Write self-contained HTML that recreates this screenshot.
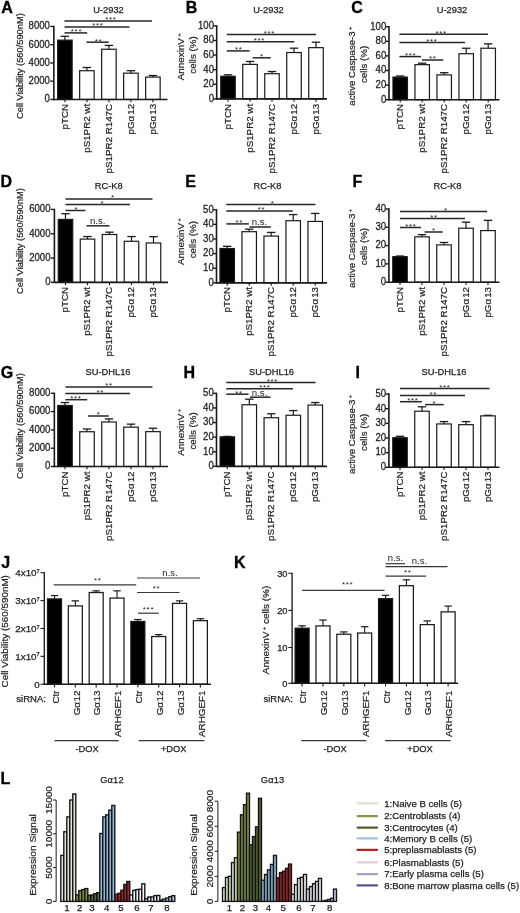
<!DOCTYPE html>
<html lang="en">
<head>
<meta charset="utf-8">
<title>Figure</title>
<style>
html,body{margin:0;padding:0;background:#fff;}
body{width:520px;height:913px;overflow:hidden;}
svg{display:block;font-family:"Liberation Sans", sans-serif;filter:blur(0.45px);}
</style>
</head>
<body>
<svg width="520" height="913" viewBox="0 0 520 913">
<rect x="0" y="0" width="520" height="913" fill="#ffffff"/>
<text transform="translate(1.2 12.9)" font-size="16" text-anchor="start" font-weight="bold" fill="#000" stroke="#000" stroke-width="0.35">A</text>
<text transform="translate(108.5 13.1)" font-size="9.3" text-anchor="middle" fill="#222222" stroke="#222222" stroke-width="0.25">U-2932</text>
<text transform="translate(23.4 66.1) scale(1 1.07) rotate(-90)" font-size="8.7" text-anchor="middle" fill="#222222" stroke="#222222" stroke-width="0.2">Cell Viability (560/590nM)</text>
<line x1="64.9" y1="40.14" x2="64.9" y2="36.31" stroke="#1a1a1a" stroke-width="1.2" stroke-linecap="butt"/>
<line x1="60.7" y1="36.31" x2="69.1" y2="36.31" stroke="#1a1a1a" stroke-width="1.3" stroke-linecap="butt"/>
<rect x="57.65" y="40.14" width="14.5" height="59.31" fill="#000" stroke="#1a1a1a" stroke-width="1.2"/>
<line x1="64.9" y1="99.45" x2="64.9" y2="102.25" stroke="#1a1a1a" stroke-width="1.1" stroke-linecap="butt"/>
<text transform="translate(67.8 103.9) scale(1 1.04) rotate(-90)" font-size="9.4" text-anchor="end" fill="#222222" stroke="#222222" stroke-width="0.2">pTCN</text>
<line x1="86.9" y1="70.71" x2="86.9" y2="67.51" stroke="#1a1a1a" stroke-width="1.2" stroke-linecap="butt"/>
<line x1="82.7" y1="67.51" x2="91.1" y2="67.51" stroke="#1a1a1a" stroke-width="1.3" stroke-linecap="butt"/>
<rect x="79.65" y="70.71" width="14.5" height="28.74" fill="#fff" stroke="#1a1a1a" stroke-width="1.2"/>
<line x1="86.9" y1="99.45" x2="86.9" y2="102.25" stroke="#1a1a1a" stroke-width="1.1" stroke-linecap="butt"/>
<text transform="translate(89.8 103.9) scale(1 1.04) rotate(-90)" font-size="9.4" text-anchor="end" fill="#222222" stroke="#222222" stroke-width="0.2">pS1PR2 wt</text>
<line x1="108.9" y1="49.26" x2="108.9" y2="45.43" stroke="#1a1a1a" stroke-width="1.2" stroke-linecap="butt"/>
<line x1="104.7" y1="45.43" x2="113.1" y2="45.43" stroke="#1a1a1a" stroke-width="1.3" stroke-linecap="butt"/>
<rect x="101.65" y="49.26" width="14.5" height="50.19" fill="#fff" stroke="#1a1a1a" stroke-width="1.2"/>
<line x1="108.9" y1="99.45" x2="108.9" y2="102.25" stroke="#1a1a1a" stroke-width="1.1" stroke-linecap="butt"/>
<text transform="translate(111.8 103.9) scale(1 1.04) rotate(-90)" font-size="9.4" text-anchor="end" fill="#222222" stroke="#222222" stroke-width="0.2">pS1PR2 R147C</text>
<line x1="130.9" y1="73.17" x2="130.9" y2="70.71" stroke="#1a1a1a" stroke-width="1.2" stroke-linecap="butt"/>
<line x1="126.7" y1="70.71" x2="135.1" y2="70.71" stroke="#1a1a1a" stroke-width="1.3" stroke-linecap="butt"/>
<rect x="123.65" y="73.17" width="14.5" height="26.28" fill="#fff" stroke="#1a1a1a" stroke-width="1.2"/>
<line x1="130.9" y1="99.45" x2="130.9" y2="102.25" stroke="#1a1a1a" stroke-width="1.1" stroke-linecap="butt"/>
<text transform="translate(133.8 103.9) scale(1 1.04) rotate(-90)" font-size="9.4" text-anchor="end" fill="#222222" stroke="#222222" stroke-width="0.2">pGα<tspan dx="1.0">12</tspan></text>
<line x1="152.9" y1="77.09" x2="152.9" y2="75.54" stroke="#1a1a1a" stroke-width="1.2" stroke-linecap="butt"/>
<line x1="148.7" y1="75.54" x2="157.1" y2="75.54" stroke="#1a1a1a" stroke-width="1.3" stroke-linecap="butt"/>
<rect x="145.65" y="77.09" width="14.5" height="22.36" fill="#fff" stroke="#1a1a1a" stroke-width="1.2"/>
<line x1="152.9" y1="99.45" x2="152.9" y2="102.25" stroke="#1a1a1a" stroke-width="1.1" stroke-linecap="butt"/>
<text transform="translate(155.8 103.9) scale(1 1.04) rotate(-90)" font-size="9.4" text-anchor="end" fill="#222222" stroke="#222222" stroke-width="0.2">pGα<tspan dx="1.0">13</tspan></text>
<line x1="53.85" y1="25.75" x2="53.85" y2="100.15" stroke="#1a1a1a" stroke-width="1.6" stroke-linecap="butt"/>
<line x1="53.15" y1="99.45" x2="167.5" y2="99.45" stroke="#1a1a1a" stroke-width="1.6" stroke-linecap="butt"/>
<line x1="50.25" y1="99.45" x2="53.85" y2="99.45" stroke="#1a1a1a" stroke-width="1.4" stroke-linecap="butt"/>
<text transform="translate(49.95 102.25) scale(1 1.07)" font-size="9.6" text-anchor="end" fill="#222222" stroke="#222222" stroke-width="0.25">0</text>
<line x1="50.25" y1="81.2" x2="53.85" y2="81.2" stroke="#1a1a1a" stroke-width="1.4" stroke-linecap="butt"/>
<text transform="translate(49.95 84) scale(1 1.07)" font-size="9.6" text-anchor="end" fill="#222222" stroke="#222222" stroke-width="0.25">2000</text>
<line x1="50.25" y1="62.95" x2="53.85" y2="62.95" stroke="#1a1a1a" stroke-width="1.4" stroke-linecap="butt"/>
<text transform="translate(49.95 65.75) scale(1 1.07)" font-size="9.6" text-anchor="end" fill="#222222" stroke="#222222" stroke-width="0.25">4000</text>
<line x1="50.25" y1="44.7" x2="53.85" y2="44.7" stroke="#1a1a1a" stroke-width="1.4" stroke-linecap="butt"/>
<text transform="translate(49.95 47.5) scale(1 1.07)" font-size="9.6" text-anchor="end" fill="#222222" stroke="#222222" stroke-width="0.25">6000</text>
<line x1="50.25" y1="26.45" x2="53.85" y2="26.45" stroke="#1a1a1a" stroke-width="1.4" stroke-linecap="butt"/>
<text transform="translate(49.95 29.25) scale(1 1.07)" font-size="9.6" text-anchor="end" fill="#222222" stroke="#222222" stroke-width="0.25">8000</text>
<line x1="64.5" y1="21" x2="152" y2="21" stroke="#262626" stroke-width="1.5" stroke-linecap="butt"/>
<text transform="translate(110.9 22.3)" font-size="8" text-anchor="middle" letter-spacing="0.65" fill="#222222">***</text>
<line x1="64.5" y1="26.9" x2="129.4" y2="26.9" stroke="#262626" stroke-width="1.5" stroke-linecap="butt"/>
<text transform="translate(97.8 28.2)" font-size="8" text-anchor="middle" letter-spacing="0.65" fill="#222222">***</text>
<line x1="64.5" y1="32.9" x2="87.2" y2="32.9" stroke="#262626" stroke-width="1.5" stroke-linecap="butt"/>
<text transform="translate(76.5 34.2)" font-size="8" text-anchor="middle" letter-spacing="0.65" fill="#222222">***</text>
<line x1="86.5" y1="42.2" x2="108.7" y2="42.2" stroke="#262626" stroke-width="1.5" stroke-linecap="butt"/>
<text transform="translate(98.5 43.5)" font-size="8" text-anchor="middle" letter-spacing="0.65" fill="#222222">**</text>
<text transform="translate(185.8 12.7)" font-size="16" text-anchor="start" font-weight="bold" fill="#000" stroke="#000" stroke-width="0.35">B</text>
<text transform="translate(268.5 13.1)" font-size="9.3" text-anchor="middle" fill="#222222" stroke="#222222" stroke-width="0.25">U-2932</text>
<text transform="translate(184 56.8) scale(1 1.07) rotate(-90)" font-size="9.2" text-anchor="middle" fill="#222222" stroke="#222222" stroke-width="0.2">AnnexinV<tspan font-size="5.5" dy="-3.4" dx="1.2">+</tspan></text>
<text transform="translate(196.3 55) scale(1 1.07) rotate(-90)" font-size="9.1" text-anchor="middle" fill="#222222" stroke="#222222" stroke-width="0.2">cells (%)</text>
<line x1="228" y1="76.27" x2="228" y2="74.81" stroke="#1a1a1a" stroke-width="1.2" stroke-linecap="butt"/>
<line x1="223.8" y1="74.81" x2="232.2" y2="74.81" stroke="#1a1a1a" stroke-width="1.3" stroke-linecap="butt"/>
<rect x="220.75" y="76.27" width="14.5" height="22.63" fill="#000" stroke="#1a1a1a" stroke-width="1.2"/>
<line x1="228" y1="98.9" x2="228" y2="101.7" stroke="#1a1a1a" stroke-width="1.1" stroke-linecap="butt"/>
<text transform="translate(230.9 103.9) scale(1 1.04) rotate(-90)" font-size="9.4" text-anchor="end" fill="#222222" stroke="#222222" stroke-width="0.2">pTCN</text>
<line x1="250" y1="64.37" x2="250" y2="61.45" stroke="#1a1a1a" stroke-width="1.2" stroke-linecap="butt"/>
<line x1="245.8" y1="61.45" x2="254.2" y2="61.45" stroke="#1a1a1a" stroke-width="1.3" stroke-linecap="butt"/>
<rect x="242.75" y="64.37" width="14.5" height="34.53" fill="#fff" stroke="#1a1a1a" stroke-width="1.2"/>
<line x1="250" y1="98.9" x2="250" y2="101.7" stroke="#1a1a1a" stroke-width="1.1" stroke-linecap="butt"/>
<text transform="translate(252.9 103.9) scale(1 1.04) rotate(-90)" font-size="9.4" text-anchor="end" fill="#222222" stroke="#222222" stroke-width="0.2">pS1PR2 wt</text>
<line x1="272" y1="73.72" x2="272" y2="71.53" stroke="#1a1a1a" stroke-width="1.2" stroke-linecap="butt"/>
<line x1="267.8" y1="71.53" x2="276.2" y2="71.53" stroke="#1a1a1a" stroke-width="1.3" stroke-linecap="butt"/>
<rect x="264.75" y="73.72" width="14.5" height="25.19" fill="#fff" stroke="#1a1a1a" stroke-width="1.2"/>
<line x1="272" y1="98.9" x2="272" y2="101.7" stroke="#1a1a1a" stroke-width="1.1" stroke-linecap="butt"/>
<text transform="translate(274.9 103.9) scale(1 1.04) rotate(-90)" font-size="9.4" text-anchor="end" fill="#222222" stroke="#222222" stroke-width="0.2">pS1PR2 R147C</text>
<line x1="294" y1="52.55" x2="294" y2="48.17" stroke="#1a1a1a" stroke-width="1.2" stroke-linecap="butt"/>
<line x1="289.8" y1="48.17" x2="298.2" y2="48.17" stroke="#1a1a1a" stroke-width="1.3" stroke-linecap="butt"/>
<rect x="286.75" y="52.55" width="14.5" height="46.35" fill="#fff" stroke="#1a1a1a" stroke-width="1.2"/>
<line x1="294" y1="98.9" x2="294" y2="101.7" stroke="#1a1a1a" stroke-width="1.1" stroke-linecap="butt"/>
<text transform="translate(296.9 103.9) scale(1 1.04) rotate(-90)" font-size="9.4" text-anchor="end" fill="#222222" stroke="#222222" stroke-width="0.2">pGα<tspan dx="1.0">12</tspan></text>
<line x1="316" y1="47.65" x2="316" y2="42.18" stroke="#1a1a1a" stroke-width="1.2" stroke-linecap="butt"/>
<line x1="311.8" y1="42.18" x2="320.2" y2="42.18" stroke="#1a1a1a" stroke-width="1.3" stroke-linecap="butt"/>
<rect x="308.75" y="47.65" width="14.5" height="51.25" fill="#fff" stroke="#1a1a1a" stroke-width="1.2"/>
<line x1="316" y1="98.9" x2="316" y2="101.7" stroke="#1a1a1a" stroke-width="1.1" stroke-linecap="butt"/>
<text transform="translate(318.9 103.9) scale(1 1.04) rotate(-90)" font-size="9.4" text-anchor="end" fill="#222222" stroke="#222222" stroke-width="0.2">pGα<tspan dx="1.0">13</tspan></text>
<line x1="216.7" y1="25.2" x2="216.7" y2="99.6" stroke="#1a1a1a" stroke-width="1.6" stroke-linecap="butt"/>
<line x1="216" y1="98.9" x2="327" y2="98.9" stroke="#1a1a1a" stroke-width="1.6" stroke-linecap="butt"/>
<line x1="213.1" y1="98.9" x2="216.7" y2="98.9" stroke="#1a1a1a" stroke-width="1.4" stroke-linecap="butt"/>
<text transform="translate(214 101.7) scale(1 1.07)" font-size="9.6" text-anchor="end" fill="#222222" stroke="#222222" stroke-width="0.25">0</text>
<line x1="213.1" y1="84.3" x2="216.7" y2="84.3" stroke="#1a1a1a" stroke-width="1.4" stroke-linecap="butt"/>
<text transform="translate(214 87.1) scale(1 1.07)" font-size="9.6" text-anchor="end" fill="#222222" stroke="#222222" stroke-width="0.25">20</text>
<line x1="213.1" y1="69.7" x2="216.7" y2="69.7" stroke="#1a1a1a" stroke-width="1.4" stroke-linecap="butt"/>
<text transform="translate(214 72.5) scale(1 1.07)" font-size="9.6" text-anchor="end" fill="#222222" stroke="#222222" stroke-width="0.25">40</text>
<line x1="213.1" y1="55.1" x2="216.7" y2="55.1" stroke="#1a1a1a" stroke-width="1.4" stroke-linecap="butt"/>
<text transform="translate(214 57.9) scale(1 1.07)" font-size="9.6" text-anchor="end" fill="#222222" stroke="#222222" stroke-width="0.25">60</text>
<line x1="213.1" y1="40.5" x2="216.7" y2="40.5" stroke="#1a1a1a" stroke-width="1.4" stroke-linecap="butt"/>
<text transform="translate(214 43.3) scale(1 1.07)" font-size="9.6" text-anchor="end" fill="#222222" stroke="#222222" stroke-width="0.25">80</text>
<line x1="213.1" y1="25.9" x2="216.7" y2="25.9" stroke="#1a1a1a" stroke-width="1.4" stroke-linecap="butt"/>
<text transform="translate(214 28.7) scale(1 1.07)" font-size="9.6" text-anchor="end" fill="#222222" stroke="#222222" stroke-width="0.25">100</text>
<line x1="226.8" y1="34.4" x2="316" y2="34.4" stroke="#262626" stroke-width="1.5" stroke-linecap="butt"/>
<text transform="translate(269.3 35.7)" font-size="8" text-anchor="middle" letter-spacing="0.65" fill="#222222">***</text>
<line x1="226.8" y1="41.8" x2="294.2" y2="41.8" stroke="#262626" stroke-width="1.5" stroke-linecap="butt"/>
<text transform="translate(259.3 43.1)" font-size="8" text-anchor="middle" letter-spacing="0.65" fill="#222222">***</text>
<line x1="226.8" y1="50.9" x2="249.6" y2="50.9" stroke="#262626" stroke-width="1.5" stroke-linecap="butt"/>
<text transform="translate(238.8 52.2)" font-size="8" text-anchor="middle" letter-spacing="0.65" fill="#222222">**</text>
<line x1="252.6" y1="57.8" x2="270.8" y2="57.8" stroke="#262626" stroke-width="1.5" stroke-linecap="butt"/>
<text transform="translate(261.8 59.1)" font-size="8" text-anchor="middle" letter-spacing="0.65" fill="#222222">*</text>
<text transform="translate(351.3 12.9)" font-size="16" text-anchor="start" font-weight="bold" fill="#000" stroke="#000" stroke-width="0.35">C</text>
<text transform="translate(452 13.1)" font-size="9.3" text-anchor="middle" fill="#222222" stroke="#222222" stroke-width="0.25">U-2932</text>
<text transform="translate(355.1 66.2) scale(1 1.07) rotate(-90)" font-size="9.0" text-anchor="middle" fill="#222222" stroke="#222222" stroke-width="0.2">active Caspase-3<tspan font-size="5.5" dy="-3.4" dx="1.2">+</tspan></text>
<text transform="translate(366.9 64.4) scale(1 1.07) rotate(-90)" font-size="9.1" text-anchor="middle" fill="#222222" stroke="#222222" stroke-width="0.2">cells (%)</text>
<line x1="400.2" y1="77.07" x2="400.2" y2="75.98" stroke="#1a1a1a" stroke-width="1.2" stroke-linecap="butt"/>
<line x1="396" y1="75.98" x2="404.4" y2="75.98" stroke="#1a1a1a" stroke-width="1.3" stroke-linecap="butt"/>
<rect x="392.95" y="77.07" width="14.5" height="22.63" fill="#000" stroke="#1a1a1a" stroke-width="1.2"/>
<line x1="400.2" y1="99.7" x2="400.2" y2="102.5" stroke="#1a1a1a" stroke-width="1.1" stroke-linecap="butt"/>
<text transform="translate(403.1 103.9) scale(1 1.04) rotate(-90)" font-size="9.4" text-anchor="end" fill="#222222" stroke="#222222" stroke-width="0.2">pTCN</text>
<line x1="422.2" y1="64.66" x2="422.2" y2="63.2" stroke="#1a1a1a" stroke-width="1.2" stroke-linecap="butt"/>
<line x1="418" y1="63.2" x2="426.4" y2="63.2" stroke="#1a1a1a" stroke-width="1.3" stroke-linecap="butt"/>
<rect x="414.95" y="64.66" width="14.5" height="35.04" fill="#fff" stroke="#1a1a1a" stroke-width="1.2"/>
<line x1="422.2" y1="99.7" x2="422.2" y2="102.5" stroke="#1a1a1a" stroke-width="1.1" stroke-linecap="butt"/>
<text transform="translate(425.1 103.9) scale(1 1.04) rotate(-90)" font-size="9.4" text-anchor="end" fill="#222222" stroke="#222222" stroke-width="0.2">pS1PR2 wt</text>
<line x1="444.2" y1="74.88" x2="444.2" y2="72.69" stroke="#1a1a1a" stroke-width="1.2" stroke-linecap="butt"/>
<line x1="440" y1="72.69" x2="448.4" y2="72.69" stroke="#1a1a1a" stroke-width="1.3" stroke-linecap="butt"/>
<rect x="436.95" y="74.88" width="14.5" height="24.82" fill="#fff" stroke="#1a1a1a" stroke-width="1.2"/>
<line x1="444.2" y1="99.7" x2="444.2" y2="102.5" stroke="#1a1a1a" stroke-width="1.1" stroke-linecap="butt"/>
<text transform="translate(447.1 103.9) scale(1 1.04) rotate(-90)" font-size="9.4" text-anchor="end" fill="#222222" stroke="#222222" stroke-width="0.2">pS1PR2 R147C</text>
<line x1="466.2" y1="53.71" x2="466.2" y2="48.24" stroke="#1a1a1a" stroke-width="1.2" stroke-linecap="butt"/>
<line x1="462" y1="48.24" x2="470.4" y2="48.24" stroke="#1a1a1a" stroke-width="1.3" stroke-linecap="butt"/>
<rect x="458.95" y="53.71" width="14.5" height="45.99" fill="#fff" stroke="#1a1a1a" stroke-width="1.2"/>
<line x1="466.2" y1="99.7" x2="466.2" y2="102.5" stroke="#1a1a1a" stroke-width="1.1" stroke-linecap="butt"/>
<text transform="translate(469.1 103.9) scale(1 1.04) rotate(-90)" font-size="9.4" text-anchor="end" fill="#222222" stroke="#222222" stroke-width="0.2">pGα<tspan dx="1.0">12</tspan></text>
<line x1="488.2" y1="48.24" x2="488.2" y2="43.86" stroke="#1a1a1a" stroke-width="1.2" stroke-linecap="butt"/>
<line x1="484" y1="43.86" x2="492.4" y2="43.86" stroke="#1a1a1a" stroke-width="1.3" stroke-linecap="butt"/>
<rect x="480.95" y="48.24" width="14.5" height="51.46" fill="#fff" stroke="#1a1a1a" stroke-width="1.2"/>
<line x1="488.2" y1="99.7" x2="488.2" y2="102.5" stroke="#1a1a1a" stroke-width="1.1" stroke-linecap="butt"/>
<text transform="translate(491.1 103.9) scale(1 1.04) rotate(-90)" font-size="9.4" text-anchor="end" fill="#222222" stroke="#222222" stroke-width="0.2">pGα<tspan dx="1.0">13</tspan></text>
<line x1="389" y1="26" x2="389" y2="100.4" stroke="#1a1a1a" stroke-width="1.6" stroke-linecap="butt"/>
<line x1="388.3" y1="99.7" x2="499.5" y2="99.7" stroke="#1a1a1a" stroke-width="1.6" stroke-linecap="butt"/>
<line x1="385.4" y1="99.7" x2="389" y2="99.7" stroke="#1a1a1a" stroke-width="1.4" stroke-linecap="butt"/>
<text transform="translate(386.3 102.5) scale(1 1.07)" font-size="9.6" text-anchor="end" fill="#222222" stroke="#222222" stroke-width="0.25">0</text>
<line x1="385.4" y1="85.1" x2="389" y2="85.1" stroke="#1a1a1a" stroke-width="1.4" stroke-linecap="butt"/>
<text transform="translate(386.3 87.9) scale(1 1.07)" font-size="9.6" text-anchor="end" fill="#222222" stroke="#222222" stroke-width="0.25">20</text>
<line x1="385.4" y1="70.5" x2="389" y2="70.5" stroke="#1a1a1a" stroke-width="1.4" stroke-linecap="butt"/>
<text transform="translate(386.3 73.3) scale(1 1.07)" font-size="9.6" text-anchor="end" fill="#222222" stroke="#222222" stroke-width="0.25">40</text>
<line x1="385.4" y1="55.9" x2="389" y2="55.9" stroke="#1a1a1a" stroke-width="1.4" stroke-linecap="butt"/>
<text transform="translate(386.3 58.7) scale(1 1.07)" font-size="9.6" text-anchor="end" fill="#222222" stroke="#222222" stroke-width="0.25">60</text>
<line x1="385.4" y1="41.3" x2="389" y2="41.3" stroke="#1a1a1a" stroke-width="1.4" stroke-linecap="butt"/>
<text transform="translate(386.3 44.1) scale(1 1.07)" font-size="9.6" text-anchor="end" fill="#222222" stroke="#222222" stroke-width="0.25">80</text>
<line x1="385.4" y1="26.7" x2="389" y2="26.7" stroke="#1a1a1a" stroke-width="1.4" stroke-linecap="butt"/>
<text transform="translate(386.3 29.5) scale(1 1.07)" font-size="9.6" text-anchor="end" fill="#222222" stroke="#222222" stroke-width="0.25">100</text>
<line x1="399.4" y1="34.3" x2="488" y2="34.3" stroke="#262626" stroke-width="1.5" stroke-linecap="butt"/>
<text transform="translate(441.1 35.6)" font-size="8" text-anchor="middle" letter-spacing="0.65" fill="#222222">***</text>
<line x1="399.4" y1="42.5" x2="465" y2="42.5" stroke="#262626" stroke-width="1.5" stroke-linecap="butt"/>
<text transform="translate(431.8 43.8)" font-size="8" text-anchor="middle" letter-spacing="0.65" fill="#222222">***</text>
<line x1="399.4" y1="56.6" x2="421" y2="56.6" stroke="#262626" stroke-width="1.5" stroke-linecap="butt"/>
<text transform="translate(410.7 57.9)" font-size="8" text-anchor="middle" letter-spacing="0.65" fill="#222222">***</text>
<line x1="422" y1="60" x2="443.2" y2="60" stroke="#262626" stroke-width="1.5" stroke-linecap="butt"/>
<text transform="translate(432.8 61.3)" font-size="8" text-anchor="middle" letter-spacing="0.65" fill="#222222">**</text>
<text transform="translate(0.5 187.1)" font-size="16" text-anchor="start" font-weight="bold" fill="#000" stroke="#000" stroke-width="0.35">D</text>
<text transform="translate(108.8 189.4)" font-size="9.3" text-anchor="middle" fill="#222222" stroke="#222222" stroke-width="0.25">RC-K8</text>
<text transform="translate(23.4 241.1) scale(1 1.07) rotate(-90)" font-size="8.7" text-anchor="middle" fill="#222222" stroke="#222222" stroke-width="0.2">Cell Viability (560/590nM)</text>
<line x1="65.5" y1="219.41" x2="65.5" y2="213.7" stroke="#1a1a1a" stroke-width="1.2" stroke-linecap="butt"/>
<line x1="61.3" y1="213.7" x2="69.7" y2="213.7" stroke="#1a1a1a" stroke-width="1.3" stroke-linecap="butt"/>
<rect x="58.25" y="219.41" width="14.5" height="62.94" fill="#000" stroke="#1a1a1a" stroke-width="1.2"/>
<line x1="65.5" y1="282.35" x2="65.5" y2="285.15" stroke="#1a1a1a" stroke-width="1.1" stroke-linecap="butt"/>
<text transform="translate(68.4 287) scale(1 1.04) rotate(-90)" font-size="9.4" text-anchor="end" fill="#222222" stroke="#222222" stroke-width="0.2">pTCN</text>
<line x1="87.5" y1="239.1" x2="87.5" y2="236.54" stroke="#1a1a1a" stroke-width="1.2" stroke-linecap="butt"/>
<line x1="83.3" y1="236.54" x2="91.7" y2="236.54" stroke="#1a1a1a" stroke-width="1.3" stroke-linecap="butt"/>
<rect x="80.25" y="239.1" width="14.5" height="43.25" fill="#fff" stroke="#1a1a1a" stroke-width="1.2"/>
<line x1="87.5" y1="282.35" x2="87.5" y2="285.15" stroke="#1a1a1a" stroke-width="1.1" stroke-linecap="butt"/>
<text transform="translate(90.4 287) scale(1 1.04) rotate(-90)" font-size="9.4" text-anchor="end" fill="#222222" stroke="#222222" stroke-width="0.2">pS1PR2 wt</text>
<line x1="109.5" y1="234.48" x2="109.5" y2="232.17" stroke="#1a1a1a" stroke-width="1.2" stroke-linecap="butt"/>
<line x1="105.3" y1="232.17" x2="113.7" y2="232.17" stroke="#1a1a1a" stroke-width="1.3" stroke-linecap="butt"/>
<rect x="102.25" y="234.48" width="14.5" height="47.87" fill="#fff" stroke="#1a1a1a" stroke-width="1.2"/>
<line x1="109.5" y1="282.35" x2="109.5" y2="285.15" stroke="#1a1a1a" stroke-width="1.1" stroke-linecap="butt"/>
<text transform="translate(112.4 287) scale(1 1.04) rotate(-90)" font-size="9.4" text-anchor="end" fill="#222222" stroke="#222222" stroke-width="0.2">pS1PR2 R147C</text>
<line x1="131.5" y1="241.28" x2="131.5" y2="236.54" stroke="#1a1a1a" stroke-width="1.2" stroke-linecap="butt"/>
<line x1="127.3" y1="236.54" x2="135.7" y2="236.54" stroke="#1a1a1a" stroke-width="1.3" stroke-linecap="butt"/>
<rect x="124.25" y="241.28" width="14.5" height="41.07" fill="#fff" stroke="#1a1a1a" stroke-width="1.2"/>
<line x1="131.5" y1="282.35" x2="131.5" y2="285.15" stroke="#1a1a1a" stroke-width="1.1" stroke-linecap="butt"/>
<text transform="translate(134.4 287) scale(1 1.04) rotate(-90)" font-size="9.4" text-anchor="end" fill="#222222" stroke="#222222" stroke-width="0.2">pGα<tspan dx="1.0">12</tspan></text>
<line x1="153.5" y1="242.98" x2="153.5" y2="236.67" stroke="#1a1a1a" stroke-width="1.2" stroke-linecap="butt"/>
<line x1="149.3" y1="236.67" x2="157.7" y2="236.67" stroke="#1a1a1a" stroke-width="1.3" stroke-linecap="butt"/>
<rect x="146.25" y="242.98" width="14.5" height="39.37" fill="#fff" stroke="#1a1a1a" stroke-width="1.2"/>
<line x1="153.5" y1="282.35" x2="153.5" y2="285.15" stroke="#1a1a1a" stroke-width="1.1" stroke-linecap="butt"/>
<text transform="translate(156.4 287) scale(1 1.04) rotate(-90)" font-size="9.4" text-anchor="end" fill="#222222" stroke="#222222" stroke-width="0.2">pGα<tspan dx="1.0">13</tspan></text>
<line x1="54.4" y1="208.75" x2="54.4" y2="283.05" stroke="#1a1a1a" stroke-width="1.6" stroke-linecap="butt"/>
<line x1="53.7" y1="282.35" x2="168" y2="282.35" stroke="#1a1a1a" stroke-width="1.6" stroke-linecap="butt"/>
<line x1="50.8" y1="282.35" x2="54.4" y2="282.35" stroke="#1a1a1a" stroke-width="1.4" stroke-linecap="butt"/>
<text transform="translate(50.5 285.15) scale(1 1.07)" font-size="9.6" text-anchor="end" fill="#222222" stroke="#222222" stroke-width="0.25">0</text>
<line x1="50.8" y1="258.05" x2="54.4" y2="258.05" stroke="#1a1a1a" stroke-width="1.4" stroke-linecap="butt"/>
<text transform="translate(50.5 260.85) scale(1 1.07)" font-size="9.6" text-anchor="end" fill="#222222" stroke="#222222" stroke-width="0.25">2000</text>
<line x1="50.8" y1="233.75" x2="54.4" y2="233.75" stroke="#1a1a1a" stroke-width="1.4" stroke-linecap="butt"/>
<text transform="translate(50.5 236.55) scale(1 1.07)" font-size="9.6" text-anchor="end" fill="#222222" stroke="#222222" stroke-width="0.25">4000</text>
<line x1="50.8" y1="209.45" x2="54.4" y2="209.45" stroke="#1a1a1a" stroke-width="1.4" stroke-linecap="butt"/>
<text transform="translate(50.5 212.25) scale(1 1.07)" font-size="9.6" text-anchor="end" fill="#222222" stroke="#222222" stroke-width="0.25">6000</text>
<line x1="65.5" y1="199" x2="152.5" y2="199" stroke="#262626" stroke-width="1.5" stroke-linecap="butt"/>
<text transform="translate(112.8 200.3)" font-size="8" text-anchor="middle" letter-spacing="0.65" fill="#222222">*</text>
<line x1="65.5" y1="204.6" x2="130" y2="204.6" stroke="#262626" stroke-width="1.5" stroke-linecap="butt"/>
<text transform="translate(102.3 205.9)" font-size="8" text-anchor="middle" letter-spacing="0.65" fill="#222222">*</text>
<line x1="65.5" y1="210.5" x2="85.4" y2="210.5" stroke="#262626" stroke-width="1.5" stroke-linecap="butt"/>
<text transform="translate(76.3 211.8)" font-size="8" text-anchor="middle" letter-spacing="0.65" fill="#222222">*</text>
<line x1="86.5" y1="225.8" x2="109.5" y2="225.8" stroke="#262626" stroke-width="1.5" stroke-linecap="butt"/>
<text transform="translate(97.7 223.8)" font-size="9.6" text-anchor="middle" fill="#222222">n.s.</text>
<text transform="translate(185.3 187.1)" font-size="16" text-anchor="start" font-weight="bold" fill="#000" stroke="#000" stroke-width="0.35">E</text>
<text transform="translate(267.5 189.4)" font-size="9.3" text-anchor="middle" fill="#222222" stroke="#222222" stroke-width="0.25">RC-K8</text>
<text transform="translate(184 241.7) scale(1 1.07) rotate(-90)" font-size="9.2" text-anchor="middle" fill="#222222" stroke="#222222" stroke-width="0.2">AnnexinV<tspan font-size="5.5" dy="-3.4" dx="1.2">+</tspan></text>
<text transform="translate(196.3 239.7) scale(1 1.07) rotate(-90)" font-size="9.1" text-anchor="middle" fill="#222222" stroke="#222222" stroke-width="0.2">cells (%)</text>
<line x1="227.2" y1="248.49" x2="227.2" y2="246.3" stroke="#1a1a1a" stroke-width="1.2" stroke-linecap="butt"/>
<line x1="223" y1="246.3" x2="231.4" y2="246.3" stroke="#1a1a1a" stroke-width="1.3" stroke-linecap="butt"/>
<rect x="219.95" y="248.49" width="14.5" height="34.36" fill="#000" stroke="#1a1a1a" stroke-width="1.2"/>
<line x1="227.2" y1="282.85" x2="227.2" y2="285.65" stroke="#1a1a1a" stroke-width="1.1" stroke-linecap="butt"/>
<text transform="translate(230.1 287) scale(1 1.04) rotate(-90)" font-size="9.4" text-anchor="end" fill="#222222" stroke="#222222" stroke-width="0.2">pTCN</text>
<line x1="249.2" y1="231.68" x2="249.2" y2="229.19" stroke="#1a1a1a" stroke-width="1.2" stroke-linecap="butt"/>
<line x1="245" y1="229.19" x2="253.4" y2="229.19" stroke="#1a1a1a" stroke-width="1.3" stroke-linecap="butt"/>
<rect x="241.95" y="231.68" width="14.5" height="51.17" fill="#fff" stroke="#1a1a1a" stroke-width="1.2"/>
<line x1="249.2" y1="282.85" x2="249.2" y2="285.65" stroke="#1a1a1a" stroke-width="1.1" stroke-linecap="butt"/>
<text transform="translate(252.1 287) scale(1 1.04) rotate(-90)" font-size="9.4" text-anchor="end" fill="#222222" stroke="#222222" stroke-width="0.2">pS1PR2 wt</text>
<line x1="271.2" y1="236.07" x2="271.2" y2="232.41" stroke="#1a1a1a" stroke-width="1.2" stroke-linecap="butt"/>
<line x1="267" y1="232.41" x2="275.4" y2="232.41" stroke="#1a1a1a" stroke-width="1.3" stroke-linecap="butt"/>
<rect x="263.95" y="236.07" width="14.5" height="46.78" fill="#fff" stroke="#1a1a1a" stroke-width="1.2"/>
<line x1="271.2" y1="282.85" x2="271.2" y2="285.65" stroke="#1a1a1a" stroke-width="1.1" stroke-linecap="butt"/>
<text transform="translate(274.1 287) scale(1 1.04) rotate(-90)" font-size="9.4" text-anchor="end" fill="#222222" stroke="#222222" stroke-width="0.2">pS1PR2 R147C</text>
<line x1="293.2" y1="220.72" x2="293.2" y2="214.57" stroke="#1a1a1a" stroke-width="1.2" stroke-linecap="butt"/>
<line x1="289" y1="214.57" x2="297.4" y2="214.57" stroke="#1a1a1a" stroke-width="1.3" stroke-linecap="butt"/>
<rect x="285.95" y="220.72" width="14.5" height="62.13" fill="#fff" stroke="#1a1a1a" stroke-width="1.2"/>
<line x1="293.2" y1="282.85" x2="293.2" y2="285.65" stroke="#1a1a1a" stroke-width="1.1" stroke-linecap="butt"/>
<text transform="translate(296.1 287) scale(1 1.04) rotate(-90)" font-size="9.4" text-anchor="end" fill="#222222" stroke="#222222" stroke-width="0.2">pGα<tspan dx="1.0">12</tspan></text>
<line x1="315.2" y1="221.45" x2="315.2" y2="213.41" stroke="#1a1a1a" stroke-width="1.2" stroke-linecap="butt"/>
<line x1="311" y1="213.41" x2="319.4" y2="213.41" stroke="#1a1a1a" stroke-width="1.3" stroke-linecap="butt"/>
<rect x="307.95" y="221.45" width="14.5" height="61.4" fill="#fff" stroke="#1a1a1a" stroke-width="1.2"/>
<line x1="315.2" y1="282.85" x2="315.2" y2="285.65" stroke="#1a1a1a" stroke-width="1.1" stroke-linecap="butt"/>
<text transform="translate(318.1 287) scale(1 1.04) rotate(-90)" font-size="9.4" text-anchor="end" fill="#222222" stroke="#222222" stroke-width="0.2">pGα<tspan dx="1.0">13</tspan></text>
<line x1="216.5" y1="209.05" x2="216.5" y2="283.55" stroke="#1a1a1a" stroke-width="1.6" stroke-linecap="butt"/>
<line x1="215.8" y1="282.85" x2="327" y2="282.85" stroke="#1a1a1a" stroke-width="1.6" stroke-linecap="butt"/>
<line x1="212.9" y1="282.85" x2="216.5" y2="282.85" stroke="#1a1a1a" stroke-width="1.4" stroke-linecap="butt"/>
<text transform="translate(213.8 285.65) scale(1 1.07)" font-size="9.6" text-anchor="end" fill="#222222" stroke="#222222" stroke-width="0.25">0</text>
<line x1="212.9" y1="268.23" x2="216.5" y2="268.23" stroke="#1a1a1a" stroke-width="1.4" stroke-linecap="butt"/>
<text transform="translate(213.8 271.03) scale(1 1.07)" font-size="9.6" text-anchor="end" fill="#222222" stroke="#222222" stroke-width="0.25">10</text>
<line x1="212.9" y1="253.61" x2="216.5" y2="253.61" stroke="#1a1a1a" stroke-width="1.4" stroke-linecap="butt"/>
<text transform="translate(213.8 256.41) scale(1 1.07)" font-size="9.6" text-anchor="end" fill="#222222" stroke="#222222" stroke-width="0.25">20</text>
<line x1="212.9" y1="238.99" x2="216.5" y2="238.99" stroke="#1a1a1a" stroke-width="1.4" stroke-linecap="butt"/>
<text transform="translate(213.8 241.79) scale(1 1.07)" font-size="9.6" text-anchor="end" fill="#222222" stroke="#222222" stroke-width="0.25">30</text>
<line x1="212.9" y1="224.37" x2="216.5" y2="224.37" stroke="#1a1a1a" stroke-width="1.4" stroke-linecap="butt"/>
<text transform="translate(213.8 227.17) scale(1 1.07)" font-size="9.6" text-anchor="end" fill="#222222" stroke="#222222" stroke-width="0.25">40</text>
<line x1="212.9" y1="209.75" x2="216.5" y2="209.75" stroke="#1a1a1a" stroke-width="1.4" stroke-linecap="butt"/>
<text transform="translate(213.8 212.55) scale(1 1.07)" font-size="9.6" text-anchor="end" fill="#222222" stroke="#222222" stroke-width="0.25">50</text>
<line x1="226.3" y1="204.6" x2="315.5" y2="204.6" stroke="#262626" stroke-width="1.5" stroke-linecap="butt"/>
<text transform="translate(272.5 205.9)" font-size="8" text-anchor="middle" letter-spacing="0.65" fill="#222222">*</text>
<line x1="226.3" y1="211" x2="292.7" y2="211" stroke="#262626" stroke-width="1.5" stroke-linecap="butt"/>
<text transform="translate(261.6 212.3)" font-size="8" text-anchor="middle" letter-spacing="0.65" fill="#222222">**</text>
<line x1="226.3" y1="223.9" x2="248.8" y2="223.9" stroke="#262626" stroke-width="1.5" stroke-linecap="butt"/>
<text transform="translate(239.3 225.2)" font-size="8" text-anchor="middle" letter-spacing="0.65" fill="#222222">**</text>
<line x1="249.5" y1="227" x2="270.8" y2="227" stroke="#262626" stroke-width="1.5" stroke-linecap="butt"/>
<text transform="translate(259.5 225)" font-size="9.6" text-anchor="middle" fill="#222222">n.s.</text>
<text transform="translate(352.6 187.1)" font-size="16" text-anchor="start" font-weight="bold" fill="#000" stroke="#000" stroke-width="0.35">F</text>
<text transform="translate(447.5 189.4)" font-size="9.3" text-anchor="middle" fill="#222222" stroke="#222222" stroke-width="0.25">RC-K8</text>
<text transform="translate(355.1 248.5) scale(1 1.07) rotate(-90)" font-size="9.0" text-anchor="middle" fill="#222222" stroke="#222222" stroke-width="0.2">active Caspase-3<tspan font-size="5.5" dy="-3.4" dx="1.2">+</tspan></text>
<text transform="translate(366.9 246.6) scale(1 1.07) rotate(-90)" font-size="9.1" text-anchor="middle" fill="#222222" stroke="#222222" stroke-width="0.2">cells (%)</text>
<line x1="400" y1="256.67" x2="400" y2="256.03" stroke="#1a1a1a" stroke-width="1.2" stroke-linecap="butt"/>
<line x1="395.8" y1="256.03" x2="404.2" y2="256.03" stroke="#1a1a1a" stroke-width="1.3" stroke-linecap="butt"/>
<rect x="392.75" y="256.67" width="14.5" height="25.53" fill="#000" stroke="#1a1a1a" stroke-width="1.2"/>
<line x1="400" y1="282.2" x2="400" y2="285" stroke="#1a1a1a" stroke-width="1.1" stroke-linecap="butt"/>
<text transform="translate(402.9 287) scale(1 1.04) rotate(-90)" font-size="9.4" text-anchor="end" fill="#222222" stroke="#222222" stroke-width="0.2">pTCN</text>
<line x1="422" y1="236.82" x2="422" y2="234.62" stroke="#1a1a1a" stroke-width="1.2" stroke-linecap="butt"/>
<line x1="417.8" y1="234.62" x2="426.2" y2="234.62" stroke="#1a1a1a" stroke-width="1.3" stroke-linecap="butt"/>
<rect x="414.75" y="236.82" width="14.5" height="45.38" fill="#fff" stroke="#1a1a1a" stroke-width="1.2"/>
<line x1="422" y1="282.2" x2="422" y2="285" stroke="#1a1a1a" stroke-width="1.1" stroke-linecap="butt"/>
<text transform="translate(424.9 287) scale(1 1.04) rotate(-90)" font-size="9.4" text-anchor="end" fill="#222222" stroke="#222222" stroke-width="0.2">pS1PR2 wt</text>
<line x1="444" y1="244.87" x2="444" y2="242.49" stroke="#1a1a1a" stroke-width="1.2" stroke-linecap="butt"/>
<line x1="439.8" y1="242.49" x2="448.2" y2="242.49" stroke="#1a1a1a" stroke-width="1.3" stroke-linecap="butt"/>
<rect x="436.75" y="244.87" width="14.5" height="37.33" fill="#fff" stroke="#1a1a1a" stroke-width="1.2"/>
<line x1="444" y1="282.2" x2="444" y2="285" stroke="#1a1a1a" stroke-width="1.1" stroke-linecap="butt"/>
<text transform="translate(446.9 287) scale(1 1.04) rotate(-90)" font-size="9.4" text-anchor="end" fill="#222222" stroke="#222222" stroke-width="0.2">pS1PR2 R147C</text>
<line x1="466" y1="228.21" x2="466" y2="222.18" stroke="#1a1a1a" stroke-width="1.2" stroke-linecap="butt"/>
<line x1="461.8" y1="222.18" x2="470.2" y2="222.18" stroke="#1a1a1a" stroke-width="1.3" stroke-linecap="butt"/>
<rect x="458.75" y="228.21" width="14.5" height="53.99" fill="#fff" stroke="#1a1a1a" stroke-width="1.2"/>
<line x1="466" y1="282.2" x2="466" y2="285" stroke="#1a1a1a" stroke-width="1.1" stroke-linecap="butt"/>
<text transform="translate(468.9 287) scale(1 1.04) rotate(-90)" font-size="9.4" text-anchor="end" fill="#222222" stroke="#222222" stroke-width="0.2">pGα<tspan dx="1.0">12</tspan></text>
<line x1="488" y1="230.59" x2="488" y2="220.35" stroke="#1a1a1a" stroke-width="1.2" stroke-linecap="butt"/>
<line x1="483.8" y1="220.35" x2="492.2" y2="220.35" stroke="#1a1a1a" stroke-width="1.3" stroke-linecap="butt"/>
<rect x="480.75" y="230.59" width="14.5" height="51.61" fill="#fff" stroke="#1a1a1a" stroke-width="1.2"/>
<line x1="488" y1="282.2" x2="488" y2="285" stroke="#1a1a1a" stroke-width="1.1" stroke-linecap="butt"/>
<text transform="translate(490.9 287) scale(1 1.04) rotate(-90)" font-size="9.4" text-anchor="end" fill="#222222" stroke="#222222" stroke-width="0.2">pGα<tspan dx="1.0">13</tspan></text>
<line x1="388.9" y1="208.3" x2="388.9" y2="282.9" stroke="#1a1a1a" stroke-width="1.6" stroke-linecap="butt"/>
<line x1="388.2" y1="282.2" x2="499.5" y2="282.2" stroke="#1a1a1a" stroke-width="1.6" stroke-linecap="butt"/>
<line x1="385.3" y1="282.2" x2="388.9" y2="282.2" stroke="#1a1a1a" stroke-width="1.4" stroke-linecap="butt"/>
<text transform="translate(386.2 285) scale(1 1.07)" font-size="9.6" text-anchor="end" fill="#222222" stroke="#222222" stroke-width="0.25">0</text>
<line x1="385.3" y1="263.9" x2="388.9" y2="263.9" stroke="#1a1a1a" stroke-width="1.4" stroke-linecap="butt"/>
<text transform="translate(386.2 266.7) scale(1 1.07)" font-size="9.6" text-anchor="end" fill="#222222" stroke="#222222" stroke-width="0.25">10</text>
<line x1="385.3" y1="245.6" x2="388.9" y2="245.6" stroke="#1a1a1a" stroke-width="1.4" stroke-linecap="butt"/>
<text transform="translate(386.2 248.4) scale(1 1.07)" font-size="9.6" text-anchor="end" fill="#222222" stroke="#222222" stroke-width="0.25">20</text>
<line x1="385.3" y1="227.3" x2="388.9" y2="227.3" stroke="#1a1a1a" stroke-width="1.4" stroke-linecap="butt"/>
<text transform="translate(386.2 230.1) scale(1 1.07)" font-size="9.6" text-anchor="end" fill="#222222" stroke="#222222" stroke-width="0.25">30</text>
<line x1="385.3" y1="209" x2="388.9" y2="209" stroke="#1a1a1a" stroke-width="1.4" stroke-linecap="butt"/>
<text transform="translate(386.2 211.8) scale(1 1.07)" font-size="9.6" text-anchor="end" fill="#222222" stroke="#222222" stroke-width="0.25">40</text>
<line x1="400" y1="211.5" x2="487" y2="211.5" stroke="#262626" stroke-width="1.5" stroke-linecap="butt"/>
<text transform="translate(445.8 212.8)" font-size="8" text-anchor="middle" letter-spacing="0.65" fill="#222222">*</text>
<line x1="400" y1="218.4" x2="465" y2="218.4" stroke="#262626" stroke-width="1.5" stroke-linecap="butt"/>
<text transform="translate(434 219.7)" font-size="8" text-anchor="middle" letter-spacing="0.65" fill="#222222">**</text>
<line x1="400" y1="227.5" x2="421" y2="227.5" stroke="#262626" stroke-width="1.5" stroke-linecap="butt"/>
<text transform="translate(410.8 228.8)" font-size="8" text-anchor="middle" letter-spacing="0.65" fill="#222222">***</text>
<line x1="424.6" y1="232" x2="442.8" y2="232" stroke="#262626" stroke-width="1.5" stroke-linecap="butt"/>
<text transform="translate(433.8 233.3)" font-size="8" text-anchor="middle" letter-spacing="0.65" fill="#222222">*</text>
<text transform="translate(0.8 377.9)" font-size="16" text-anchor="start" font-weight="bold" fill="#000" stroke="#000" stroke-width="0.35">G</text>
<text transform="translate(108 375.4)" font-size="9.3" text-anchor="middle" fill="#222222" stroke="#222222" stroke-width="0.25">SU-DHL16</text>
<text transform="translate(23.4 426.1) scale(1 1.07) rotate(-90)" font-size="8.7" text-anchor="middle" fill="#222222" stroke="#222222" stroke-width="0.2">Cell Viability (560/590nM)</text>
<line x1="65" y1="405.47" x2="65" y2="402.54" stroke="#1a1a1a" stroke-width="1.2" stroke-linecap="butt"/>
<line x1="60.8" y1="402.54" x2="69.2" y2="402.54" stroke="#1a1a1a" stroke-width="1.3" stroke-linecap="butt"/>
<rect x="57.75" y="405.47" width="14.5" height="61.03" fill="#000" stroke="#1a1a1a" stroke-width="1.2"/>
<line x1="65" y1="466.5" x2="65" y2="469.3" stroke="#1a1a1a" stroke-width="1.1" stroke-linecap="butt"/>
<text transform="translate(67.9 471.5) scale(1 1.04) rotate(-90)" font-size="9.4" text-anchor="end" fill="#222222" stroke="#222222" stroke-width="0.2">pTCN</text>
<line x1="87" y1="431.73" x2="87" y2="428.99" stroke="#1a1a1a" stroke-width="1.2" stroke-linecap="butt"/>
<line x1="82.8" y1="428.99" x2="91.2" y2="428.99" stroke="#1a1a1a" stroke-width="1.3" stroke-linecap="butt"/>
<rect x="79.75" y="431.73" width="14.5" height="34.77" fill="#fff" stroke="#1a1a1a" stroke-width="1.2"/>
<line x1="87" y1="466.5" x2="87" y2="469.3" stroke="#1a1a1a" stroke-width="1.1" stroke-linecap="butt"/>
<text transform="translate(89.9 471.5) scale(1 1.04) rotate(-90)" font-size="9.4" text-anchor="end" fill="#222222" stroke="#222222" stroke-width="0.2">pS1PR2 wt</text>
<line x1="109" y1="421.99" x2="109" y2="418.92" stroke="#1a1a1a" stroke-width="1.2" stroke-linecap="butt"/>
<line x1="104.8" y1="418.92" x2="113.2" y2="418.92" stroke="#1a1a1a" stroke-width="1.3" stroke-linecap="butt"/>
<rect x="101.75" y="421.99" width="14.5" height="44.51" fill="#fff" stroke="#1a1a1a" stroke-width="1.2"/>
<line x1="109" y1="466.5" x2="109" y2="469.3" stroke="#1a1a1a" stroke-width="1.1" stroke-linecap="butt"/>
<text transform="translate(111.9 471.5) scale(1 1.04) rotate(-90)" font-size="9.4" text-anchor="end" fill="#222222" stroke="#222222" stroke-width="0.2">pS1PR2 R147C</text>
<line x1="131" y1="427.15" x2="131" y2="424.14" stroke="#1a1a1a" stroke-width="1.2" stroke-linecap="butt"/>
<line x1="126.8" y1="424.14" x2="135.2" y2="424.14" stroke="#1a1a1a" stroke-width="1.3" stroke-linecap="butt"/>
<rect x="123.75" y="427.15" width="14.5" height="39.35" fill="#fff" stroke="#1a1a1a" stroke-width="1.2"/>
<line x1="131" y1="466.5" x2="131" y2="469.3" stroke="#1a1a1a" stroke-width="1.1" stroke-linecap="butt"/>
<text transform="translate(133.9 471.5) scale(1 1.04) rotate(-90)" font-size="9.4" text-anchor="end" fill="#222222" stroke="#222222" stroke-width="0.2">pGα<tspan dx="1.0">12</tspan></text>
<line x1="153" y1="431.64" x2="153" y2="428.25" stroke="#1a1a1a" stroke-width="1.2" stroke-linecap="butt"/>
<line x1="148.8" y1="428.25" x2="157.2" y2="428.25" stroke="#1a1a1a" stroke-width="1.3" stroke-linecap="butt"/>
<rect x="145.75" y="431.64" width="14.5" height="34.86" fill="#fff" stroke="#1a1a1a" stroke-width="1.2"/>
<line x1="153" y1="466.5" x2="153" y2="469.3" stroke="#1a1a1a" stroke-width="1.1" stroke-linecap="butt"/>
<text transform="translate(155.9 471.5) scale(1 1.04) rotate(-90)" font-size="9.4" text-anchor="end" fill="#222222" stroke="#222222" stroke-width="0.2">pGα<tspan dx="1.0">13</tspan></text>
<line x1="54.35" y1="392.6" x2="54.35" y2="467.2" stroke="#1a1a1a" stroke-width="1.6" stroke-linecap="butt"/>
<line x1="53.65" y1="466.5" x2="168" y2="466.5" stroke="#1a1a1a" stroke-width="1.6" stroke-linecap="butt"/>
<line x1="50.75" y1="466.5" x2="54.35" y2="466.5" stroke="#1a1a1a" stroke-width="1.4" stroke-linecap="butt"/>
<text transform="translate(50.45 469.3) scale(1 1.07)" font-size="9.6" text-anchor="end" fill="#222222" stroke="#222222" stroke-width="0.25">0</text>
<line x1="50.75" y1="448.2" x2="54.35" y2="448.2" stroke="#1a1a1a" stroke-width="1.4" stroke-linecap="butt"/>
<text transform="translate(50.45 451) scale(1 1.07)" font-size="9.6" text-anchor="end" fill="#222222" stroke="#222222" stroke-width="0.25">2000</text>
<line x1="50.75" y1="429.9" x2="54.35" y2="429.9" stroke="#1a1a1a" stroke-width="1.4" stroke-linecap="butt"/>
<text transform="translate(50.45 432.7) scale(1 1.07)" font-size="9.6" text-anchor="end" fill="#222222" stroke="#222222" stroke-width="0.25">4000</text>
<line x1="50.75" y1="411.6" x2="54.35" y2="411.6" stroke="#1a1a1a" stroke-width="1.4" stroke-linecap="butt"/>
<text transform="translate(50.45 414.4) scale(1 1.07)" font-size="9.6" text-anchor="end" fill="#222222" stroke="#222222" stroke-width="0.25">6000</text>
<line x1="50.75" y1="393.3" x2="54.35" y2="393.3" stroke="#1a1a1a" stroke-width="1.4" stroke-linecap="butt"/>
<text transform="translate(50.45 396.1) scale(1 1.07)" font-size="9.6" text-anchor="end" fill="#222222" stroke="#222222" stroke-width="0.25">8000</text>
<line x1="65.4" y1="387.1" x2="152.5" y2="387.1" stroke="#262626" stroke-width="1.5" stroke-linecap="butt"/>
<text transform="translate(109 388.4)" font-size="8" text-anchor="middle" letter-spacing="0.65" fill="#222222">**</text>
<line x1="65.4" y1="393.6" x2="130" y2="393.6" stroke="#262626" stroke-width="1.5" stroke-linecap="butt"/>
<text transform="translate(100.3 394.9)" font-size="8" text-anchor="middle" letter-spacing="0.65" fill="#222222">**</text>
<line x1="65.4" y1="399.7" x2="87.2" y2="399.7" stroke="#262626" stroke-width="1.5" stroke-linecap="butt"/>
<text transform="translate(75.8 401)" font-size="8" text-anchor="middle" letter-spacing="0.65" fill="#222222">***</text>
<line x1="88" y1="416" x2="108.8" y2="416" stroke="#262626" stroke-width="1.5" stroke-linecap="butt"/>
<text transform="translate(98.5 417.3)" font-size="8" text-anchor="middle" letter-spacing="0.65" fill="#222222">*</text>
<text transform="translate(183.5 377.9)" font-size="16" text-anchor="start" font-weight="bold" fill="#000" stroke="#000" stroke-width="0.35">H</text>
<text transform="translate(271.5 375.4)" font-size="9.3" text-anchor="middle" fill="#222222" stroke="#222222" stroke-width="0.25">SU-DHL16</text>
<text transform="translate(184 432.4) scale(1 1.07) rotate(-90)" font-size="9.2" text-anchor="middle" fill="#222222" stroke="#222222" stroke-width="0.2">AnnexinV<tspan font-size="5.5" dy="-3.4" dx="1.2">+</tspan></text>
<text transform="translate(196.3 430.9) scale(1 1.07) rotate(-90)" font-size="9.1" text-anchor="middle" fill="#222222" stroke="#222222" stroke-width="0.2">cells (%)</text>
<line x1="227.3" y1="436.86" x2="227.3" y2="436.42" stroke="#1a1a1a" stroke-width="1.2" stroke-linecap="butt"/>
<line x1="223.1" y1="436.42" x2="231.5" y2="436.42" stroke="#1a1a1a" stroke-width="1.3" stroke-linecap="butt"/>
<rect x="220.05" y="436.86" width="14.5" height="29.49" fill="#000" stroke="#1a1a1a" stroke-width="1.2"/>
<line x1="227.3" y1="466.35" x2="227.3" y2="469.15" stroke="#1a1a1a" stroke-width="1.1" stroke-linecap="butt"/>
<text transform="translate(230.2 471.5) scale(1 1.04) rotate(-90)" font-size="9.4" text-anchor="end" fill="#222222" stroke="#222222" stroke-width="0.2">pTCN</text>
<line x1="249.3" y1="404.74" x2="249.3" y2="399.19" stroke="#1a1a1a" stroke-width="1.2" stroke-linecap="butt"/>
<line x1="245.1" y1="399.19" x2="253.5" y2="399.19" stroke="#1a1a1a" stroke-width="1.3" stroke-linecap="butt"/>
<rect x="242.05" y="404.74" width="14.5" height="61.61" fill="#fff" stroke="#1a1a1a" stroke-width="1.2"/>
<line x1="249.3" y1="466.35" x2="249.3" y2="469.15" stroke="#1a1a1a" stroke-width="1.1" stroke-linecap="butt"/>
<text transform="translate(252.2 471.5) scale(1 1.04) rotate(-90)" font-size="9.4" text-anchor="end" fill="#222222" stroke="#222222" stroke-width="0.2">pS1PR2 wt</text>
<line x1="271.3" y1="417.73" x2="271.3" y2="413.79" stroke="#1a1a1a" stroke-width="1.2" stroke-linecap="butt"/>
<line x1="267.1" y1="413.79" x2="275.5" y2="413.79" stroke="#1a1a1a" stroke-width="1.3" stroke-linecap="butt"/>
<rect x="264.05" y="417.73" width="14.5" height="48.62" fill="#fff" stroke="#1a1a1a" stroke-width="1.2"/>
<line x1="271.3" y1="466.35" x2="271.3" y2="469.15" stroke="#1a1a1a" stroke-width="1.1" stroke-linecap="butt"/>
<text transform="translate(274.2 471.5) scale(1 1.04) rotate(-90)" font-size="9.4" text-anchor="end" fill="#222222" stroke="#222222" stroke-width="0.2">pS1PR2 R147C</text>
<line x1="293.3" y1="415.25" x2="293.3" y2="410.58" stroke="#1a1a1a" stroke-width="1.2" stroke-linecap="butt"/>
<line x1="289.1" y1="410.58" x2="297.5" y2="410.58" stroke="#1a1a1a" stroke-width="1.3" stroke-linecap="butt"/>
<rect x="286.05" y="415.25" width="14.5" height="51.1" fill="#fff" stroke="#1a1a1a" stroke-width="1.2"/>
<line x1="293.3" y1="466.35" x2="293.3" y2="469.15" stroke="#1a1a1a" stroke-width="1.1" stroke-linecap="butt"/>
<text transform="translate(296.2 471.5) scale(1 1.04) rotate(-90)" font-size="9.4" text-anchor="end" fill="#222222" stroke="#222222" stroke-width="0.2">pGα<tspan dx="1.0">12</tspan></text>
<line x1="315.3" y1="405.03" x2="315.3" y2="402.55" stroke="#1a1a1a" stroke-width="1.2" stroke-linecap="butt"/>
<line x1="311.1" y1="402.55" x2="319.5" y2="402.55" stroke="#1a1a1a" stroke-width="1.3" stroke-linecap="butt"/>
<rect x="308.05" y="405.03" width="14.5" height="61.32" fill="#fff" stroke="#1a1a1a" stroke-width="1.2"/>
<line x1="315.3" y1="466.35" x2="315.3" y2="469.15" stroke="#1a1a1a" stroke-width="1.1" stroke-linecap="butt"/>
<text transform="translate(318.2 471.5) scale(1 1.04) rotate(-90)" font-size="9.4" text-anchor="end" fill="#222222" stroke="#222222" stroke-width="0.2">pGα<tspan dx="1.0">13</tspan></text>
<line x1="216.5" y1="392.65" x2="216.5" y2="467.05" stroke="#1a1a1a" stroke-width="1.6" stroke-linecap="butt"/>
<line x1="215.8" y1="466.35" x2="327" y2="466.35" stroke="#1a1a1a" stroke-width="1.6" stroke-linecap="butt"/>
<line x1="212.9" y1="466.35" x2="216.5" y2="466.35" stroke="#1a1a1a" stroke-width="1.4" stroke-linecap="butt"/>
<text transform="translate(213.8 469.15) scale(1 1.07)" font-size="9.6" text-anchor="end" fill="#222222" stroke="#222222" stroke-width="0.25">0</text>
<line x1="212.9" y1="451.75" x2="216.5" y2="451.75" stroke="#1a1a1a" stroke-width="1.4" stroke-linecap="butt"/>
<text transform="translate(213.8 454.55) scale(1 1.07)" font-size="9.6" text-anchor="end" fill="#222222" stroke="#222222" stroke-width="0.25">10</text>
<line x1="212.9" y1="437.15" x2="216.5" y2="437.15" stroke="#1a1a1a" stroke-width="1.4" stroke-linecap="butt"/>
<text transform="translate(213.8 439.95) scale(1 1.07)" font-size="9.6" text-anchor="end" fill="#222222" stroke="#222222" stroke-width="0.25">20</text>
<line x1="212.9" y1="422.55" x2="216.5" y2="422.55" stroke="#1a1a1a" stroke-width="1.4" stroke-linecap="butt"/>
<text transform="translate(213.8 425.35) scale(1 1.07)" font-size="9.6" text-anchor="end" fill="#222222" stroke="#222222" stroke-width="0.25">30</text>
<line x1="212.9" y1="407.95" x2="216.5" y2="407.95" stroke="#1a1a1a" stroke-width="1.4" stroke-linecap="butt"/>
<text transform="translate(213.8 410.75) scale(1 1.07)" font-size="9.6" text-anchor="end" fill="#222222" stroke="#222222" stroke-width="0.25">40</text>
<line x1="212.9" y1="393.35" x2="216.5" y2="393.35" stroke="#1a1a1a" stroke-width="1.4" stroke-linecap="butt"/>
<text transform="translate(213.8 396.15) scale(1 1.07)" font-size="9.6" text-anchor="end" fill="#222222" stroke="#222222" stroke-width="0.25">50</text>
<line x1="226.3" y1="382.5" x2="315.5" y2="382.5" stroke="#262626" stroke-width="1.5" stroke-linecap="butt"/>
<text transform="translate(272.3 383.8)" font-size="8" text-anchor="middle" letter-spacing="0.65" fill="#222222">***</text>
<line x1="226.3" y1="388.7" x2="293" y2="388.7" stroke="#262626" stroke-width="1.5" stroke-linecap="butt"/>
<text transform="translate(264.8 390)" font-size="8" text-anchor="middle" letter-spacing="0.65" fill="#222222">***</text>
<line x1="226.3" y1="394.2" x2="248.5" y2="394.2" stroke="#262626" stroke-width="1.5" stroke-linecap="butt"/>
<text transform="translate(239 395.5)" font-size="8" text-anchor="middle" letter-spacing="0.65" fill="#222222">**</text>
<line x1="250" y1="397.2" x2="270.5" y2="397.2" stroke="#262626" stroke-width="1.5" stroke-linecap="butt"/>
<text transform="translate(259.6 396.3)" font-size="9.6" text-anchor="middle" fill="#222222">n.s.</text>
<text transform="translate(355.6 377.9)" font-size="16" text-anchor="start" font-weight="bold" fill="#000" stroke="#000" stroke-width="0.35">I</text>
<text transform="translate(444 375.4)" font-size="9.3" text-anchor="middle" fill="#222222" stroke="#222222" stroke-width="0.25">SU-DHL16</text>
<text transform="translate(355.1 434.5) scale(1 1.07) rotate(-90)" font-size="9.0" text-anchor="middle" fill="#222222" stroke="#222222" stroke-width="0.2">active Caspase-3<tspan font-size="5.5" dy="-3.4" dx="1.2">+</tspan></text>
<text transform="translate(366.9 432.3) scale(1 1.07) rotate(-90)" font-size="9.1" text-anchor="middle" fill="#222222" stroke="#222222" stroke-width="0.2">cells (%)</text>
<line x1="400" y1="437.71" x2="400" y2="436.24" stroke="#1a1a1a" stroke-width="1.2" stroke-linecap="butt"/>
<line x1="395.8" y1="436.24" x2="404.2" y2="436.24" stroke="#1a1a1a" stroke-width="1.3" stroke-linecap="butt"/>
<rect x="392.75" y="437.71" width="14.5" height="29.59" fill="#000" stroke="#1a1a1a" stroke-width="1.2"/>
<line x1="400" y1="467.3" x2="400" y2="470.1" stroke="#1a1a1a" stroke-width="1.1" stroke-linecap="butt"/>
<text transform="translate(402.9 471.5) scale(1 1.04) rotate(-90)" font-size="9.4" text-anchor="end" fill="#222222" stroke="#222222" stroke-width="0.2">pTCN</text>
<line x1="422" y1="411.19" x2="422" y2="406.8" stroke="#1a1a1a" stroke-width="1.2" stroke-linecap="butt"/>
<line x1="417.8" y1="406.8" x2="426.2" y2="406.8" stroke="#1a1a1a" stroke-width="1.3" stroke-linecap="butt"/>
<rect x="414.75" y="411.19" width="14.5" height="56.11" fill="#fff" stroke="#1a1a1a" stroke-width="1.2"/>
<line x1="422" y1="467.3" x2="422" y2="470.1" stroke="#1a1a1a" stroke-width="1.1" stroke-linecap="butt"/>
<text transform="translate(424.9 471.5) scale(1 1.04) rotate(-90)" font-size="9.4" text-anchor="end" fill="#222222" stroke="#222222" stroke-width="0.2">pS1PR2 wt</text>
<line x1="444" y1="423.94" x2="444" y2="421.59" stroke="#1a1a1a" stroke-width="1.2" stroke-linecap="butt"/>
<line x1="439.8" y1="421.59" x2="448.2" y2="421.59" stroke="#1a1a1a" stroke-width="1.3" stroke-linecap="butt"/>
<rect x="436.75" y="423.94" width="14.5" height="43.36" fill="#fff" stroke="#1a1a1a" stroke-width="1.2"/>
<line x1="444" y1="467.3" x2="444" y2="470.1" stroke="#1a1a1a" stroke-width="1.1" stroke-linecap="butt"/>
<text transform="translate(446.9 471.5) scale(1 1.04) rotate(-90)" font-size="9.4" text-anchor="end" fill="#222222" stroke="#222222" stroke-width="0.2">pS1PR2 R147C</text>
<line x1="466" y1="424.67" x2="466" y2="421.59" stroke="#1a1a1a" stroke-width="1.2" stroke-linecap="butt"/>
<line x1="461.8" y1="421.59" x2="470.2" y2="421.59" stroke="#1a1a1a" stroke-width="1.3" stroke-linecap="butt"/>
<rect x="458.75" y="424.67" width="14.5" height="42.63" fill="#fff" stroke="#1a1a1a" stroke-width="1.2"/>
<line x1="466" y1="467.3" x2="466" y2="470.1" stroke="#1a1a1a" stroke-width="1.1" stroke-linecap="butt"/>
<text transform="translate(468.9 471.5) scale(1 1.04) rotate(-90)" font-size="9.4" text-anchor="end" fill="#222222" stroke="#222222" stroke-width="0.2">pGα<tspan dx="1.0">12</tspan></text>
<line x1="488" y1="415.88" x2="488" y2="415.29" stroke="#1a1a1a" stroke-width="1.2" stroke-linecap="butt"/>
<line x1="483.8" y1="415.29" x2="492.2" y2="415.29" stroke="#1a1a1a" stroke-width="1.3" stroke-linecap="butt"/>
<rect x="480.75" y="415.88" width="14.5" height="51.42" fill="#fff" stroke="#1a1a1a" stroke-width="1.2"/>
<line x1="488" y1="467.3" x2="488" y2="470.1" stroke="#1a1a1a" stroke-width="1.1" stroke-linecap="butt"/>
<text transform="translate(490.9 471.5) scale(1 1.04) rotate(-90)" font-size="9.4" text-anchor="end" fill="#222222" stroke="#222222" stroke-width="0.2">pGα<tspan dx="1.0">13</tspan></text>
<line x1="388.9" y1="393.35" x2="388.9" y2="468" stroke="#1a1a1a" stroke-width="1.6" stroke-linecap="butt"/>
<line x1="388.2" y1="467.3" x2="499.5" y2="467.3" stroke="#1a1a1a" stroke-width="1.6" stroke-linecap="butt"/>
<line x1="385.3" y1="467.3" x2="388.9" y2="467.3" stroke="#1a1a1a" stroke-width="1.4" stroke-linecap="butt"/>
<text transform="translate(386.2 470.1) scale(1 1.07)" font-size="9.6" text-anchor="end" fill="#222222" stroke="#222222" stroke-width="0.25">0</text>
<line x1="385.3" y1="452.65" x2="388.9" y2="452.65" stroke="#1a1a1a" stroke-width="1.4" stroke-linecap="butt"/>
<text transform="translate(386.2 455.45) scale(1 1.07)" font-size="9.6" text-anchor="end" fill="#222222" stroke="#222222" stroke-width="0.25">10</text>
<line x1="385.3" y1="438" x2="388.9" y2="438" stroke="#1a1a1a" stroke-width="1.4" stroke-linecap="butt"/>
<text transform="translate(386.2 440.8) scale(1 1.07)" font-size="9.6" text-anchor="end" fill="#222222" stroke="#222222" stroke-width="0.25">20</text>
<line x1="385.3" y1="423.35" x2="388.9" y2="423.35" stroke="#1a1a1a" stroke-width="1.4" stroke-linecap="butt"/>
<text transform="translate(386.2 426.15) scale(1 1.07)" font-size="9.6" text-anchor="end" fill="#222222" stroke="#222222" stroke-width="0.25">30</text>
<line x1="385.3" y1="408.7" x2="388.9" y2="408.7" stroke="#1a1a1a" stroke-width="1.4" stroke-linecap="butt"/>
<text transform="translate(386.2 411.5) scale(1 1.07)" font-size="9.6" text-anchor="end" fill="#222222" stroke="#222222" stroke-width="0.25">40</text>
<line x1="385.3" y1="394.05" x2="388.9" y2="394.05" stroke="#1a1a1a" stroke-width="1.4" stroke-linecap="butt"/>
<text transform="translate(386.2 396.85) scale(1 1.07)" font-size="9.6" text-anchor="end" fill="#222222" stroke="#222222" stroke-width="0.25">50</text>
<line x1="400" y1="388.6" x2="489.5" y2="388.6" stroke="#262626" stroke-width="1.5" stroke-linecap="butt"/>
<text transform="translate(444.8 389.9)" font-size="8" text-anchor="middle" letter-spacing="0.65" fill="#222222">***</text>
<line x1="400" y1="395.4" x2="465" y2="395.4" stroke="#262626" stroke-width="1.5" stroke-linecap="butt"/>
<text transform="translate(433.3 396.7)" font-size="8" text-anchor="middle" letter-spacing="0.65" fill="#222222">**</text>
<line x1="400" y1="401.7" x2="422" y2="401.7" stroke="#262626" stroke-width="1.5" stroke-linecap="butt"/>
<text transform="translate(412.8 403)" font-size="8" text-anchor="middle" letter-spacing="0.65" fill="#222222">***</text>
<line x1="425" y1="404.6" x2="443.8" y2="404.6" stroke="#262626" stroke-width="1.5" stroke-linecap="butt"/>
<text transform="translate(434.3 405.9)" font-size="8" text-anchor="middle" letter-spacing="0.65" fill="#222222">*</text>
<text transform="translate(1.2 567.6)" font-size="16" text-anchor="start" font-weight="bold" fill="#000" stroke="#000" stroke-width="0.35">J</text>
<text transform="translate(8.3 631.3) scale(1 1.07) rotate(-90)" font-size="9.25" text-anchor="middle" fill="#222222" stroke="#222222" stroke-width="0.2">Cell Viability (560/590nM)</text>
<line x1="54.5" y1="598.92" x2="54.5" y2="595.57" stroke="#1a1a1a" stroke-width="1.1" stroke-linecap="butt"/>
<line x1="50.8" y1="595.57" x2="58.2" y2="595.57" stroke="#1a1a1a" stroke-width="1.2" stroke-linecap="butt"/>
<rect x="47.5" y="598.92" width="14" height="85.28" fill="#000" stroke="#1a1a1a" stroke-width="1.25"/>
<line x1="54.5" y1="684.2" x2="54.5" y2="687.4" stroke="#1a1a1a" stroke-width="1.1" stroke-linecap="butt"/>
<text transform="translate(58.7 690.4) rotate(-90)" font-size="9.9" text-anchor="end" fill="#222222" stroke="#222222" stroke-width="0.2">Ctr</text>
<line x1="75.34" y1="605.89" x2="75.34" y2="600.87" stroke="#1a1a1a" stroke-width="1.1" stroke-linecap="butt"/>
<line x1="71.64" y1="600.87" x2="79.04" y2="600.87" stroke="#1a1a1a" stroke-width="1.2" stroke-linecap="butt"/>
<rect x="68.34" y="605.89" width="14" height="78.31" fill="#fff" stroke="#1a1a1a" stroke-width="1.25"/>
<line x1="75.34" y1="684.2" x2="75.34" y2="687.4" stroke="#1a1a1a" stroke-width="1.1" stroke-linecap="butt"/>
<text transform="translate(79.54 690.4) rotate(-90)" font-size="9.9" text-anchor="end" fill="#222222" stroke="#222222" stroke-width="0.2">Gα<tspan dx="0.6">12</tspan></text>
<line x1="96.18" y1="592.51" x2="96.18" y2="590.84" stroke="#1a1a1a" stroke-width="1.1" stroke-linecap="butt"/>
<line x1="92.48" y1="590.84" x2="99.88" y2="590.84" stroke="#1a1a1a" stroke-width="1.2" stroke-linecap="butt"/>
<rect x="89.18" y="592.51" width="14" height="91.69" fill="#fff" stroke="#1a1a1a" stroke-width="1.25"/>
<line x1="96.18" y1="684.2" x2="96.18" y2="687.4" stroke="#1a1a1a" stroke-width="1.1" stroke-linecap="butt"/>
<text transform="translate(100.38 690.4) rotate(-90)" font-size="9.9" text-anchor="end" fill="#222222" stroke="#222222" stroke-width="0.2">Gα<tspan dx="0.6">13</tspan></text>
<line x1="117.02" y1="598.08" x2="117.02" y2="590.84" stroke="#1a1a1a" stroke-width="1.1" stroke-linecap="butt"/>
<line x1="113.32" y1="590.84" x2="120.72" y2="590.84" stroke="#1a1a1a" stroke-width="1.2" stroke-linecap="butt"/>
<rect x="110.02" y="598.08" width="14" height="86.12" fill="#fff" stroke="#1a1a1a" stroke-width="1.25"/>
<line x1="117.02" y1="684.2" x2="117.02" y2="687.4" stroke="#1a1a1a" stroke-width="1.1" stroke-linecap="butt"/>
<text transform="translate(121.22 690.4) rotate(-90)" font-size="9.9" text-anchor="end" fill="#222222" stroke="#222222" stroke-width="0.2">ARHGEF1</text>
<line x1="137.86" y1="621.49" x2="137.86" y2="619.54" stroke="#1a1a1a" stroke-width="1.1" stroke-linecap="butt"/>
<line x1="134.16" y1="619.54" x2="141.56" y2="619.54" stroke="#1a1a1a" stroke-width="1.2" stroke-linecap="butt"/>
<rect x="130.86" y="621.49" width="14" height="62.71" fill="#000" stroke="#1a1a1a" stroke-width="1.25"/>
<line x1="137.86" y1="684.2" x2="137.86" y2="687.4" stroke="#1a1a1a" stroke-width="1.1" stroke-linecap="butt"/>
<text transform="translate(142.06 690.4) rotate(-90)" font-size="9.9" text-anchor="end" fill="#222222" stroke="#222222" stroke-width="0.2">Ctr</text>
<line x1="158.7" y1="636.54" x2="158.7" y2="634.59" stroke="#1a1a1a" stroke-width="1.1" stroke-linecap="butt"/>
<line x1="155" y1="634.59" x2="162.4" y2="634.59" stroke="#1a1a1a" stroke-width="1.2" stroke-linecap="butt"/>
<rect x="151.7" y="636.54" width="14" height="47.66" fill="#fff" stroke="#1a1a1a" stroke-width="1.25"/>
<line x1="158.7" y1="684.2" x2="158.7" y2="687.4" stroke="#1a1a1a" stroke-width="1.1" stroke-linecap="butt"/>
<text transform="translate(162.9 690.4) rotate(-90)" font-size="9.9" text-anchor="end" fill="#222222" stroke="#222222" stroke-width="0.2">Gα<tspan dx="0.6">12</tspan></text>
<line x1="179.54" y1="603.38" x2="179.54" y2="600.87" stroke="#1a1a1a" stroke-width="1.1" stroke-linecap="butt"/>
<line x1="175.84" y1="600.87" x2="183.24" y2="600.87" stroke="#1a1a1a" stroke-width="1.2" stroke-linecap="butt"/>
<rect x="172.54" y="603.38" width="14" height="80.82" fill="#fff" stroke="#1a1a1a" stroke-width="1.25"/>
<line x1="179.54" y1="684.2" x2="179.54" y2="687.4" stroke="#1a1a1a" stroke-width="1.1" stroke-linecap="butt"/>
<text transform="translate(183.74 690.4) rotate(-90)" font-size="9.9" text-anchor="end" fill="#222222" stroke="#222222" stroke-width="0.2">Gα<tspan dx="0.6">13</tspan></text>
<line x1="200.38" y1="620.66" x2="200.38" y2="618.71" stroke="#1a1a1a" stroke-width="1.1" stroke-linecap="butt"/>
<line x1="196.68" y1="618.71" x2="204.08" y2="618.71" stroke="#1a1a1a" stroke-width="1.2" stroke-linecap="butt"/>
<rect x="193.38" y="620.66" width="14" height="63.54" fill="#fff" stroke="#1a1a1a" stroke-width="1.25"/>
<line x1="200.38" y1="684.2" x2="200.38" y2="687.4" stroke="#1a1a1a" stroke-width="1.1" stroke-linecap="butt"/>
<text transform="translate(204.58 690.4) rotate(-90)" font-size="9.9" text-anchor="end" fill="#222222" stroke="#222222" stroke-width="0.2">ARHGEF1</text>
<line x1="44.3" y1="572.17" x2="44.3" y2="684.9" stroke="#1a1a1a" stroke-width="1.35" stroke-linecap="butt"/>
<line x1="43.65" y1="684.2" x2="211" y2="684.2" stroke="#1a1a1a" stroke-width="1.45" stroke-linecap="butt"/>
<line x1="40.5" y1="684.2" x2="44.3" y2="684.2" stroke="#1a1a1a" stroke-width="1.1" stroke-linecap="butt"/>
<text transform="translate(39.7 687.5)" font-size="9.8" text-anchor="end" fill="#222222" stroke="#222222" stroke-width="0.25">0</text>
<line x1="40.5" y1="656.33" x2="44.3" y2="656.33" stroke="#1a1a1a" stroke-width="1.1" stroke-linecap="butt"/>
<text transform="translate(39.7 659.63)" font-size="9.8" text-anchor="end" fill="#222222" stroke="#222222" stroke-width="0.25">1x10<tspan font-size="5.6" dy="-3.2">7</tspan></text>
<line x1="40.5" y1="628.46" x2="44.3" y2="628.46" stroke="#1a1a1a" stroke-width="1.1" stroke-linecap="butt"/>
<text transform="translate(39.7 631.76)" font-size="9.8" text-anchor="end" fill="#222222" stroke="#222222" stroke-width="0.25">2x10<tspan font-size="5.6" dy="-3.2">7</tspan></text>
<line x1="40.5" y1="600.59" x2="44.3" y2="600.59" stroke="#1a1a1a" stroke-width="1.1" stroke-linecap="butt"/>
<text transform="translate(39.7 603.89)" font-size="9.8" text-anchor="end" fill="#222222" stroke="#222222" stroke-width="0.25">3x10<tspan font-size="5.6" dy="-3.2">7</tspan></text>
<line x1="40.5" y1="572.72" x2="44.3" y2="572.72" stroke="#1a1a1a" stroke-width="1.1" stroke-linecap="butt"/>
<text transform="translate(39.7 576.02)" font-size="9.8" text-anchor="end" fill="#222222" stroke="#222222" stroke-width="0.25">4x10<tspan font-size="5.6" dy="-3.2">7</tspan></text>
<line x1="53.7" y1="584.8" x2="136.2" y2="584.8" stroke="#383838" stroke-width="1.2" stroke-linecap="butt"/>
<text transform="translate(97.8 583.3)" font-size="8" text-anchor="middle" letter-spacing="0.65" fill="#222222">**</text>
<line x1="137" y1="578" x2="200" y2="578" stroke="#383838" stroke-width="1.2" stroke-linecap="butt"/>
<text transform="translate(170 575.7)" font-size="9.5" text-anchor="middle" fill="#222222">n.s.</text>
<line x1="137" y1="592.5" x2="179.5" y2="592.5" stroke="#383838" stroke-width="1.2" stroke-linecap="butt"/>
<text transform="translate(156.5 591)" font-size="8" text-anchor="middle" letter-spacing="0.65" fill="#222222">**</text>
<line x1="138" y1="613.2" x2="158.7" y2="613.2" stroke="#383838" stroke-width="1.2" stroke-linecap="butt"/>
<text transform="translate(148.5 611.7)" font-size="8" text-anchor="middle" letter-spacing="0.65" fill="#222222">***</text>
<text transform="translate(45.9 702.4)" font-size="9.5" text-anchor="end" fill="#222222" stroke="#222222" stroke-width="0.25">siRNA:</text>
<line x1="54.5" y1="740.7" x2="118.7" y2="740.7" stroke="#383838" stroke-width="1.2" stroke-linecap="butt"/>
<text transform="translate(87 751.8)" font-size="9.3" text-anchor="middle" fill="#222222" stroke="#222222" stroke-width="0.25">-DOX</text>
<line x1="138.7" y1="740.7" x2="204.5" y2="740.7" stroke="#383838" stroke-width="1.2" stroke-linecap="butt"/>
<text transform="translate(173.7 751.8)" font-size="9.3" text-anchor="middle" fill="#222222" stroke="#222222" stroke-width="0.25">+DOX</text>
<text transform="translate(234 567.6)" font-size="16" text-anchor="start" font-weight="bold" fill="#000" stroke="#000" stroke-width="0.35">K</text>
<text transform="translate(269.2 630) scale(1 1.07) rotate(-90)" font-size="9.35" text-anchor="middle" fill="#222222" stroke="#222222" stroke-width="0.2">AnnexinV<tspan font-size="5.5" dy="-3.4" dx="1.2">+</tspan><tspan dy="3.4"> cells (%)</tspan></text>
<line x1="302.1" y1="628.21" x2="302.1" y2="625.8" stroke="#1a1a1a" stroke-width="1.1" stroke-linecap="butt"/>
<line x1="298.4" y1="625.8" x2="305.8" y2="625.8" stroke="#1a1a1a" stroke-width="1.2" stroke-linecap="butt"/>
<rect x="295.1" y="628.21" width="14" height="55.09" fill="#000" stroke="#1a1a1a" stroke-width="1.25"/>
<line x1="302.1" y1="683.3" x2="302.1" y2="686.5" stroke="#1a1a1a" stroke-width="1.1" stroke-linecap="butt"/>
<text transform="translate(306.3 690.4) rotate(-90)" font-size="9.9" text-anchor="end" fill="#222222" stroke="#222222" stroke-width="0.2">Ctr</text>
<line x1="322.96" y1="625.91" x2="322.96" y2="620.05" stroke="#1a1a1a" stroke-width="1.1" stroke-linecap="butt"/>
<line x1="319.26" y1="620.05" x2="326.66" y2="620.05" stroke="#1a1a1a" stroke-width="1.2" stroke-linecap="butt"/>
<rect x="315.96" y="625.91" width="14" height="57.39" fill="#fff" stroke="#1a1a1a" stroke-width="1.25"/>
<line x1="322.96" y1="683.3" x2="322.96" y2="686.5" stroke="#1a1a1a" stroke-width="1.1" stroke-linecap="butt"/>
<text transform="translate(327.16 690.4) rotate(-90)" font-size="9.9" text-anchor="end" fill="#222222" stroke="#222222" stroke-width="0.2">Gα<tspan dx="0.6">12</tspan></text>
<line x1="343.82" y1="634.22" x2="343.82" y2="631.92" stroke="#1a1a1a" stroke-width="1.1" stroke-linecap="butt"/>
<line x1="340.12" y1="631.92" x2="347.52" y2="631.92" stroke="#1a1a1a" stroke-width="1.2" stroke-linecap="butt"/>
<rect x="336.82" y="634.22" width="14" height="49.08" fill="#fff" stroke="#1a1a1a" stroke-width="1.25"/>
<line x1="343.82" y1="683.3" x2="343.82" y2="686.5" stroke="#1a1a1a" stroke-width="1.1" stroke-linecap="butt"/>
<text transform="translate(348.02 690.4) rotate(-90)" font-size="9.9" text-anchor="end" fill="#222222" stroke="#222222" stroke-width="0.2">Gα<tspan dx="0.6">13</tspan></text>
<line x1="364.68" y1="633.03" x2="364.68" y2="626.72" stroke="#1a1a1a" stroke-width="1.1" stroke-linecap="butt"/>
<line x1="360.98" y1="626.72" x2="368.38" y2="626.72" stroke="#1a1a1a" stroke-width="1.2" stroke-linecap="butt"/>
<rect x="357.68" y="633.03" width="14" height="50.27" fill="#fff" stroke="#1a1a1a" stroke-width="1.25"/>
<line x1="364.68" y1="683.3" x2="364.68" y2="686.5" stroke="#1a1a1a" stroke-width="1.1" stroke-linecap="butt"/>
<text transform="translate(368.88 690.4) rotate(-90)" font-size="9.9" text-anchor="end" fill="#222222" stroke="#222222" stroke-width="0.2">ARHGEF1</text>
<line x1="385.54" y1="598.71" x2="385.54" y2="595.3" stroke="#1a1a1a" stroke-width="1.1" stroke-linecap="butt"/>
<line x1="381.84" y1="595.3" x2="389.24" y2="595.3" stroke="#1a1a1a" stroke-width="1.2" stroke-linecap="butt"/>
<rect x="378.54" y="598.71" width="14" height="84.59" fill="#000" stroke="#1a1a1a" stroke-width="1.25"/>
<line x1="385.54" y1="683.3" x2="385.54" y2="686.5" stroke="#1a1a1a" stroke-width="1.1" stroke-linecap="butt"/>
<text transform="translate(389.74 690.4) rotate(-90)" font-size="9.9" text-anchor="end" fill="#222222" stroke="#222222" stroke-width="0.2">Ctr</text>
<line x1="406.4" y1="585.69" x2="406.4" y2="579.79" stroke="#1a1a1a" stroke-width="1.1" stroke-linecap="butt"/>
<line x1="402.7" y1="579.79" x2="410.1" y2="579.79" stroke="#1a1a1a" stroke-width="1.2" stroke-linecap="butt"/>
<rect x="399.4" y="585.69" width="14" height="97.61" fill="#fff" stroke="#1a1a1a" stroke-width="1.25"/>
<line x1="406.4" y1="683.3" x2="406.4" y2="686.5" stroke="#1a1a1a" stroke-width="1.1" stroke-linecap="butt"/>
<text transform="translate(410.6 690.4) rotate(-90)" font-size="9.9" text-anchor="end" fill="#222222" stroke="#222222" stroke-width="0.2">Gα<tspan dx="0.6">12</tspan></text>
<line x1="427.26" y1="624.61" x2="427.26" y2="620.9" stroke="#1a1a1a" stroke-width="1.1" stroke-linecap="butt"/>
<line x1="423.56" y1="620.9" x2="430.96" y2="620.9" stroke="#1a1a1a" stroke-width="1.2" stroke-linecap="butt"/>
<rect x="420.26" y="624.61" width="14" height="58.69" fill="#fff" stroke="#1a1a1a" stroke-width="1.25"/>
<line x1="427.26" y1="683.3" x2="427.26" y2="686.5" stroke="#1a1a1a" stroke-width="1.1" stroke-linecap="butt"/>
<text transform="translate(431.46 690.4) rotate(-90)" font-size="9.9" text-anchor="end" fill="#222222" stroke="#222222" stroke-width="0.2">Gα<tspan dx="0.6">13</tspan></text>
<line x1="448.12" y1="611.88" x2="448.12" y2="606.1" stroke="#1a1a1a" stroke-width="1.1" stroke-linecap="butt"/>
<line x1="444.42" y1="606.1" x2="451.82" y2="606.1" stroke="#1a1a1a" stroke-width="1.2" stroke-linecap="butt"/>
<rect x="441.12" y="611.88" width="14" height="71.42" fill="#fff" stroke="#1a1a1a" stroke-width="1.25"/>
<line x1="448.12" y1="683.3" x2="448.12" y2="686.5" stroke="#1a1a1a" stroke-width="1.1" stroke-linecap="butt"/>
<text transform="translate(452.32 690.4) rotate(-90)" font-size="9.9" text-anchor="end" fill="#222222" stroke="#222222" stroke-width="0.2">ARHGEF1</text>
<line x1="292.1" y1="572.75" x2="292.1" y2="684" stroke="#1a1a1a" stroke-width="1.35" stroke-linecap="butt"/>
<line x1="291.45" y1="683.3" x2="458" y2="683.3" stroke="#1a1a1a" stroke-width="1.45" stroke-linecap="butt"/>
<line x1="288.3" y1="683.3" x2="292.1" y2="683.3" stroke="#1a1a1a" stroke-width="1.1" stroke-linecap="butt"/>
<text transform="translate(287.5 686.6)" font-size="9.3" text-anchor="end" fill="#222222" stroke="#222222" stroke-width="0.25">0</text>
<line x1="288.3" y1="647.5" x2="292.1" y2="647.5" stroke="#1a1a1a" stroke-width="1.1" stroke-linecap="butt"/>
<text transform="translate(287.5 650.8)" font-size="9.3" text-anchor="end" fill="#222222" stroke="#222222" stroke-width="0.25">10</text>
<line x1="288.3" y1="610.4" x2="292.1" y2="610.4" stroke="#1a1a1a" stroke-width="1.1" stroke-linecap="butt"/>
<text transform="translate(287.5 613.7)" font-size="9.3" text-anchor="end" fill="#222222" stroke="#222222" stroke-width="0.25">20</text>
<line x1="288.3" y1="573.3" x2="292.1" y2="573.3" stroke="#1a1a1a" stroke-width="1.1" stroke-linecap="butt"/>
<text transform="translate(287.5 576.6)" font-size="9.3" text-anchor="end" fill="#222222" stroke="#222222" stroke-width="0.25">30</text>
<line x1="302" y1="590.4" x2="384.5" y2="590.4" stroke="#383838" stroke-width="1.2" stroke-linecap="butt"/>
<text transform="translate(347.6 587.2)" font-size="8" text-anchor="middle" letter-spacing="0.65" fill="#222222">***</text>
<line x1="385.5" y1="563.7" x2="405" y2="563.7" stroke="#383838" stroke-width="1.2" stroke-linecap="butt"/>
<text transform="translate(395.5 561.4)" font-size="9.5" text-anchor="middle" fill="#222222">n.s.</text>
<line x1="385.5" y1="566.7" x2="447.5" y2="566.7" stroke="#383838" stroke-width="1.2" stroke-linecap="butt"/>
<text transform="translate(419.5 564.4)" font-size="9.5" text-anchor="middle" fill="#222222">n.s.</text>
<line x1="385.5" y1="576.2" x2="426.2" y2="576.2" stroke="#383838" stroke-width="1.2" stroke-linecap="butt"/>
<text transform="translate(407.8 574.7)" font-size="8" text-anchor="middle" letter-spacing="0.65" fill="#222222">**</text>
<text transform="translate(293 702.4)" font-size="9.5" text-anchor="end" fill="#222222" stroke="#222222" stroke-width="0.25">siRNA:</text>
<line x1="301.2" y1="740.7" x2="366.2" y2="740.7" stroke="#383838" stroke-width="1.2" stroke-linecap="butt"/>
<text transform="translate(335 751.8)" font-size="9.3" text-anchor="middle" fill="#222222" stroke="#222222" stroke-width="0.25">-DOX</text>
<line x1="385" y1="740.7" x2="450.7" y2="740.7" stroke="#383838" stroke-width="1.2" stroke-linecap="butt"/>
<text transform="translate(420 751.8)" font-size="9.3" text-anchor="middle" fill="#222222" stroke="#222222" stroke-width="0.25">+DOX</text>
<text transform="translate(0.6 783.8)" font-size="16" text-anchor="start" font-weight="bold" fill="#000" stroke="#000" stroke-width="0.35">L</text>
<text transform="translate(112 782.9)" font-size="9.3" text-anchor="middle" letter-spacing="0.15" fill="#222222" stroke="#222222" stroke-width="0.25">Gα12</text>
<text transform="translate(36.4 855) scale(1 1.07) rotate(-90)" font-size="9.55" text-anchor="middle" fill="#222222" stroke="#222222" stroke-width="0.2">Expression Signal</text>
<rect x="60.8" y="855.43" width="3" height="45.97" fill="#e3e7d5" stroke="#101214" stroke-width="1.35"/>
<rect x="63.8" y="831.77" width="3" height="69.63" fill="#e3e7d5" stroke="#101214" stroke-width="1.35"/>
<rect x="66.8" y="816.9" width="3" height="84.5" fill="#e3e7d5" stroke="#101214" stroke-width="1.35"/>
<rect x="69.8" y="800" width="3" height="101.4" fill="#e3e7d5" stroke="#101214" stroke-width="1.35"/>
<rect x="72.8" y="793.92" width="3" height="107.48" fill="#e3e7d5" stroke="#101214" stroke-width="1.35"/>
<rect x="75.8" y="894.98" width="3" height="6.42" fill="#828f48" stroke="#101214" stroke-width="1.35"/>
<rect x="78.8" y="890.58" width="3" height="10.82" fill="#828f48" stroke="#101214" stroke-width="1.35"/>
<rect x="81.8" y="889.57" width="3" height="11.83" fill="#828f48" stroke="#101214" stroke-width="1.35"/>
<rect x="84.8" y="888.56" width="3" height="12.84" fill="#828f48" stroke="#101214" stroke-width="1.35"/>
<rect x="87.8" y="895.32" width="3" height="6.08" fill="#586534" stroke="#101214" stroke-width="1.35"/>
<rect x="90.8" y="894.98" width="3" height="6.42" fill="#586534" stroke="#101214" stroke-width="1.35"/>
<rect x="93.8" y="893.63" width="3" height="7.77" fill="#586534" stroke="#101214" stroke-width="1.35"/>
<rect x="96.8" y="892.61" width="3" height="8.79" fill="#586534" stroke="#101214" stroke-width="1.35"/>
<rect x="99.8" y="833.46" width="3" height="67.94" fill="#93b6d5" stroke="#101214" stroke-width="1.35"/>
<rect x="102.8" y="816.9" width="3" height="84.5" fill="#93b6d5" stroke="#101214" stroke-width="1.35"/>
<rect x="105.8" y="814.87" width="3" height="86.53" fill="#93b6d5" stroke="#101214" stroke-width="1.35"/>
<rect x="108.8" y="810.14" width="3" height="91.26" fill="#93b6d5" stroke="#101214" stroke-width="1.35"/>
<rect x="111.8" y="805.41" width="3" height="95.99" fill="#93b6d5" stroke="#101214" stroke-width="1.35"/>
<rect x="114.8" y="894.3" width="3" height="7.1" fill="#962626" stroke="#101214" stroke-width="1.35"/>
<rect x="117.8" y="893.29" width="3" height="8.11" fill="#962626" stroke="#101214" stroke-width="1.35"/>
<rect x="120.8" y="890.25" width="3" height="11.15" fill="#962626" stroke="#101214" stroke-width="1.35"/>
<rect x="123.8" y="884.5" width="3" height="16.9" fill="#962626" stroke="#101214" stroke-width="1.35"/>
<rect x="126.8" y="881.46" width="3" height="19.94" fill="#962626" stroke="#101214" stroke-width="1.35"/>
<rect x="129.8" y="894.98" width="3" height="6.42" fill="#fbf6f6" stroke="#101214" stroke-width="1.35"/>
<rect x="132.8" y="890.25" width="3" height="11.15" fill="#fbf6f6" stroke="#101214" stroke-width="1.35"/>
<rect x="135.8" y="889.57" width="3" height="11.83" fill="#fbf6f6" stroke="#101214" stroke-width="1.35"/>
<rect x="138.8" y="889.23" width="3" height="12.17" fill="#fbf6f6" stroke="#101214" stroke-width="1.35"/>
<rect x="141.8" y="883.82" width="3" height="17.58" fill="#fbf6f6" stroke="#101214" stroke-width="1.35"/>
<rect x="144.8" y="898.7" width="3" height="2.7" fill="#efebf6" stroke="#101214" stroke-width="1.35"/>
<rect x="147.8" y="897.01" width="3" height="4.39" fill="#efebf6" stroke="#101214" stroke-width="1.35"/>
<rect x="150.8" y="897.01" width="3" height="4.39" fill="#efebf6" stroke="#101214" stroke-width="1.35"/>
<rect x="153.8" y="895.65" width="3" height="5.75" fill="#efebf6" stroke="#101214" stroke-width="1.35"/>
<rect x="156.8" y="895.45" width="3" height="5.95" fill="#efebf6" stroke="#101214" stroke-width="1.35"/>
<rect x="159.8" y="900.05" width="3" height="1.35" fill="#bfc3e2" stroke="#101214" stroke-width="1.35"/>
<rect x="162.8" y="899.03" width="3" height="2.37" fill="#bfc3e2" stroke="#101214" stroke-width="1.35"/>
<rect x="165.8" y="898.02" width="3" height="3.38" fill="#bfc3e2" stroke="#101214" stroke-width="1.35"/>
<rect x="168.8" y="896.67" width="3" height="4.73" fill="#bfc3e2" stroke="#101214" stroke-width="1.35"/>
<rect x="171.8" y="895.65" width="3" height="5.75" fill="#bfc3e2" stroke="#101214" stroke-width="1.35"/>
<line x1="56.15" y1="800" x2="56.15" y2="901.4" stroke="#1a1a1a" stroke-width="1.0" stroke-linecap="butt"/>
<line x1="52.95" y1="901.4" x2="56.15" y2="901.4" stroke="#1a1a1a" stroke-width="1.0" stroke-linecap="butt"/>
<text transform="translate(51.7 901.4) scale(1 1.07) rotate(-90)" font-size="9.4" text-anchor="middle" fill="#222222" stroke="#222222" stroke-width="0.2">0</text>
<line x1="52.95" y1="867.6" x2="56.15" y2="867.6" stroke="#1a1a1a" stroke-width="1.0" stroke-linecap="butt"/>
<text transform="translate(51.7 867.6) scale(1 1.07) rotate(-90)" font-size="9.4" text-anchor="middle" fill="#222222" stroke="#222222" stroke-width="0.2">5000</text>
<line x1="52.95" y1="833.8" x2="56.15" y2="833.8" stroke="#1a1a1a" stroke-width="1.0" stroke-linecap="butt"/>
<text transform="translate(51.7 833.8) scale(1 1.07) rotate(-90)" font-size="9.4" text-anchor="middle" fill="#222222" stroke="#222222" stroke-width="0.2">10000</text>
<line x1="52.95" y1="800" x2="56.15" y2="800" stroke="#1a1a1a" stroke-width="1.0" stroke-linecap="butt"/>
<text transform="translate(51.7 800) scale(1 1.07) rotate(-90)" font-size="9.4" text-anchor="middle" fill="#222222" stroke="#222222" stroke-width="0.2">15000</text>
<text transform="translate(66.8 911.2)" font-size="9.6" text-anchor="middle" fill="#222222" stroke="#222222" stroke-width="0.25">1</text>
<text transform="translate(79.6 911.2)" font-size="9.6" text-anchor="middle" fill="#222222" stroke="#222222" stroke-width="0.25">2</text>
<text transform="translate(92 911.2)" font-size="9.6" text-anchor="middle" fill="#222222" stroke="#222222" stroke-width="0.25">3</text>
<text transform="translate(106.6 911.2)" font-size="9.6" text-anchor="middle" fill="#222222" stroke="#222222" stroke-width="0.25">4</text>
<text transform="translate(120.8 911.2)" font-size="9.6" text-anchor="middle" fill="#222222" stroke="#222222" stroke-width="0.25">5</text>
<text transform="translate(137 911.2)" font-size="9.6" text-anchor="middle" fill="#222222" stroke="#222222" stroke-width="0.25">6</text>
<text transform="translate(151 911.2)" font-size="9.6" text-anchor="middle" fill="#222222" stroke="#222222" stroke-width="0.25">7</text>
<text transform="translate(166.9 911.2)" font-size="9.6" text-anchor="middle" fill="#222222" stroke="#222222" stroke-width="0.25">8</text>
<text transform="translate(272.6 782.9)" font-size="9.3" text-anchor="middle" letter-spacing="0.15" fill="#222222" stroke="#222222" stroke-width="0.25">Gα13</text>
<text transform="translate(197.3 855) scale(1 1.07) rotate(-90)" font-size="9.55" text-anchor="middle" fill="#222222" stroke="#222222" stroke-width="0.2">Expression Signal</text>
<rect x="222.5" y="887.62" width="3" height="13.78" fill="#e3e7d5" stroke="#101214" stroke-width="1.35"/>
<rect x="225.5" y="877.35" width="3" height="24.05" fill="#e3e7d5" stroke="#101214" stroke-width="1.35"/>
<rect x="228.5" y="876.35" width="3" height="25.05" fill="#e3e7d5" stroke="#101214" stroke-width="1.35"/>
<rect x="231.5" y="862.57" width="3" height="38.83" fill="#e3e7d5" stroke="#101214" stroke-width="1.35"/>
<rect x="234.5" y="857.69" width="3" height="43.71" fill="#e3e7d5" stroke="#101214" stroke-width="1.35"/>
<rect x="237.5" y="832.14" width="3" height="69.26" fill="#828f48" stroke="#101214" stroke-width="1.35"/>
<rect x="240.5" y="814.73" width="3" height="86.67" fill="#828f48" stroke="#101214" stroke-width="1.35"/>
<rect x="243.5" y="804.71" width="3" height="96.69" fill="#828f48" stroke="#101214" stroke-width="1.35"/>
<rect x="246.5" y="793.18" width="3" height="108.22" fill="#828f48" stroke="#101214" stroke-width="1.35"/>
<rect x="249.5" y="844.79" width="3" height="56.61" fill="#586534" stroke="#101214" stroke-width="1.35"/>
<rect x="252.5" y="836.52" width="3" height="64.88" fill="#586534" stroke="#101214" stroke-width="1.35"/>
<rect x="255.5" y="826.88" width="3" height="74.52" fill="#586534" stroke="#101214" stroke-width="1.35"/>
<rect x="258.5" y="798.32" width="3" height="103.08" fill="#586534" stroke="#101214" stroke-width="1.35"/>
<rect x="261.5" y="880.23" width="3" height="21.17" fill="#93b6d5" stroke="#101214" stroke-width="1.35"/>
<rect x="264.5" y="874.47" width="3" height="26.93" fill="#93b6d5" stroke="#101214" stroke-width="1.35"/>
<rect x="267.5" y="869.84" width="3" height="31.56" fill="#93b6d5" stroke="#101214" stroke-width="1.35"/>
<rect x="270.5" y="864.45" width="3" height="36.95" fill="#93b6d5" stroke="#101214" stroke-width="1.35"/>
<rect x="273.5" y="855.43" width="3" height="45.97" fill="#93b6d5" stroke="#101214" stroke-width="1.35"/>
<rect x="276.5" y="877.85" width="3" height="23.55" fill="#962626" stroke="#101214" stroke-width="1.35"/>
<rect x="279.5" y="872.59" width="3" height="28.81" fill="#962626" stroke="#101214" stroke-width="1.35"/>
<rect x="282.5" y="871.21" width="3" height="30.19" fill="#962626" stroke="#101214" stroke-width="1.35"/>
<rect x="285.5" y="868.33" width="3" height="33.07" fill="#962626" stroke="#101214" stroke-width="1.35"/>
<rect x="288.5" y="864.08" width="3" height="37.32" fill="#962626" stroke="#101214" stroke-width="1.35"/>
<rect x="291.5" y="894.26" width="3" height="7.14" fill="#fbf6f6" stroke="#101214" stroke-width="1.35"/>
<rect x="294.5" y="884.62" width="3" height="16.78" fill="#fbf6f6" stroke="#101214" stroke-width="1.35"/>
<rect x="297.5" y="878.35" width="3" height="23.05" fill="#fbf6f6" stroke="#101214" stroke-width="1.35"/>
<rect x="300.5" y="877.35" width="3" height="24.05" fill="#fbf6f6" stroke="#101214" stroke-width="1.35"/>
<rect x="303.5" y="874.47" width="3" height="26.93" fill="#fbf6f6" stroke="#101214" stroke-width="1.35"/>
<rect x="306.5" y="889.13" width="3" height="12.27" fill="#efebf6" stroke="#101214" stroke-width="1.35"/>
<rect x="309.5" y="886.62" width="3" height="14.78" fill="#efebf6" stroke="#101214" stroke-width="1.35"/>
<rect x="312.5" y="883.74" width="3" height="17.66" fill="#efebf6" stroke="#101214" stroke-width="1.35"/>
<rect x="315.5" y="881.36" width="3" height="20.04" fill="#efebf6" stroke="#101214" stroke-width="1.35"/>
<rect x="318.5" y="878.35" width="3" height="23.05" fill="#efebf6" stroke="#101214" stroke-width="1.35"/>
<rect x="321.5" y="901.02" width="3" height="0.38" fill="#bfc3e2" stroke="#101214" stroke-width="1.35"/>
<rect x="324.5" y="900.4" width="3" height="1" fill="#bfc3e2" stroke="#101214" stroke-width="1.35"/>
<rect x="327.5" y="899.52" width="3" height="1.88" fill="#bfc3e2" stroke="#101214" stroke-width="1.35"/>
<rect x="330.5" y="898.27" width="3" height="3.13" fill="#bfc3e2" stroke="#101214" stroke-width="1.35"/>
<rect x="333.5" y="889.13" width="3" height="12.27" fill="#bfc3e2" stroke="#101214" stroke-width="1.35"/>
<line x1="217.9" y1="801.2" x2="217.9" y2="901.4" stroke="#1a1a1a" stroke-width="1.0" stroke-linecap="butt"/>
<line x1="214.7" y1="901.4" x2="217.9" y2="901.4" stroke="#1a1a1a" stroke-width="1.0" stroke-linecap="butt"/>
<text transform="translate(212.8 901.4) scale(1 1.07) rotate(-90)" font-size="9.4" text-anchor="middle" fill="#222222" stroke="#222222" stroke-width="0.2">0</text>
<line x1="214.7" y1="876.35" x2="217.9" y2="876.35" stroke="#1a1a1a" stroke-width="1.0" stroke-linecap="butt"/>
<text transform="translate(212.8 876.35) scale(1 1.07) rotate(-90)" font-size="9.4" text-anchor="middle" fill="#222222" stroke="#222222" stroke-width="0.2">2000</text>
<line x1="214.7" y1="851.3" x2="217.9" y2="851.3" stroke="#1a1a1a" stroke-width="1.0" stroke-linecap="butt"/>
<text transform="translate(212.8 851.3) scale(1 1.07) rotate(-90)" font-size="9.4" text-anchor="middle" fill="#222222" stroke="#222222" stroke-width="0.2">4000</text>
<line x1="214.7" y1="826.25" x2="217.9" y2="826.25" stroke="#1a1a1a" stroke-width="1.0" stroke-linecap="butt"/>
<text transform="translate(212.8 826.25) scale(1 1.07) rotate(-90)" font-size="9.4" text-anchor="middle" fill="#222222" stroke="#222222" stroke-width="0.2">6000</text>
<line x1="214.7" y1="801.2" x2="217.9" y2="801.2" stroke="#1a1a1a" stroke-width="1.0" stroke-linecap="butt"/>
<text transform="translate(212.8 801.2) scale(1 1.07) rotate(-90)" font-size="9.4" text-anchor="middle" fill="#222222" stroke="#222222" stroke-width="0.2">8000</text>
<text transform="translate(229.5 911.2)" font-size="9.6" text-anchor="middle" fill="#222222" stroke="#222222" stroke-width="0.25">1</text>
<text transform="translate(242.5 911.2)" font-size="9.6" text-anchor="middle" fill="#222222" stroke="#222222" stroke-width="0.25">2</text>
<text transform="translate(255.5 911.2)" font-size="9.6" text-anchor="middle" fill="#222222" stroke="#222222" stroke-width="0.25">3</text>
<text transform="translate(268.3 911.2)" font-size="9.6" text-anchor="middle" fill="#222222" stroke="#222222" stroke-width="0.25">4</text>
<text transform="translate(283.2 911.2)" font-size="9.6" text-anchor="middle" fill="#222222" stroke="#222222" stroke-width="0.25">5</text>
<text transform="translate(299 911.2)" font-size="9.6" text-anchor="middle" fill="#222222" stroke="#222222" stroke-width="0.25">6</text>
<text transform="translate(312.8 911.2)" font-size="9.6" text-anchor="middle" fill="#222222" stroke="#222222" stroke-width="0.25">7</text>
<text transform="translate(329.7 911.2)" font-size="9.6" text-anchor="middle" fill="#222222" stroke="#222222" stroke-width="0.25">8</text>
<line x1="357.6" y1="803.3" x2="377" y2="803.3" stroke="#d9e0cc" stroke-width="2.3" stroke-linecap="round"/>
<text transform="translate(384.2 806.6)" font-size="9.6" text-anchor="start" fill="#222222" stroke="#222222" stroke-width="0.25">1:Naive B cells (5)</text>
<line x1="357.6" y1="816.1" x2="377" y2="816.1" stroke="#87944f" stroke-width="2.3" stroke-linecap="round"/>
<text transform="translate(384.2 819.4)" font-size="9.6" text-anchor="start" fill="#222222" stroke="#222222" stroke-width="0.25">2:Centroblasts (4)</text>
<line x1="357.6" y1="827.6" x2="377" y2="827.6" stroke="#515c35" stroke-width="2.3" stroke-linecap="round"/>
<text transform="translate(384.2 830.9)" font-size="9.6" text-anchor="start" fill="#222222" stroke="#222222" stroke-width="0.25">3:Centrocytes (4)</text>
<line x1="357.6" y1="838.3" x2="377" y2="838.3" stroke="#9cc4dc" stroke-width="2.3" stroke-linecap="round"/>
<text transform="translate(384.2 841.6)" font-size="9.6" text-anchor="start" fill="#222222" stroke="#222222" stroke-width="0.25">4:Memory B cells (5)</text>
<line x1="357.6" y1="849.8" x2="377" y2="849.8" stroke="#b32028" stroke-width="2.3" stroke-linecap="round"/>
<text transform="translate(384.2 853.1)" font-size="9.6" text-anchor="start" fill="#222222" stroke="#222222" stroke-width="0.25">5:preplasmablasts (5)</text>
<line x1="357.6" y1="862.3" x2="377" y2="862.3" stroke="#e0cde0" stroke-width="2.3" stroke-linecap="round"/>
<text transform="translate(384.2 865.6)" font-size="9.6" text-anchor="start" fill="#222222" stroke="#222222" stroke-width="0.25">6:Plasmablasts (5)</text>
<line x1="357.6" y1="874.1" x2="377" y2="874.1" stroke="#a8a0c8" stroke-width="2.3" stroke-linecap="round"/>
<text transform="translate(384.2 877.4)" font-size="9.6" text-anchor="start" fill="#222222" stroke="#222222" stroke-width="0.25">7:Early plasma cells (5)</text>
<line x1="357.6" y1="885.4" x2="377" y2="885.4" stroke="#54548a" stroke-width="2.3" stroke-linecap="round"/>
<text transform="translate(384.2 888.7)" font-size="9.6" text-anchor="start" fill="#222222" stroke="#222222" stroke-width="0.25">8:Bone marrow plasma cells (5)</text>
</svg>
</body>
</html>
